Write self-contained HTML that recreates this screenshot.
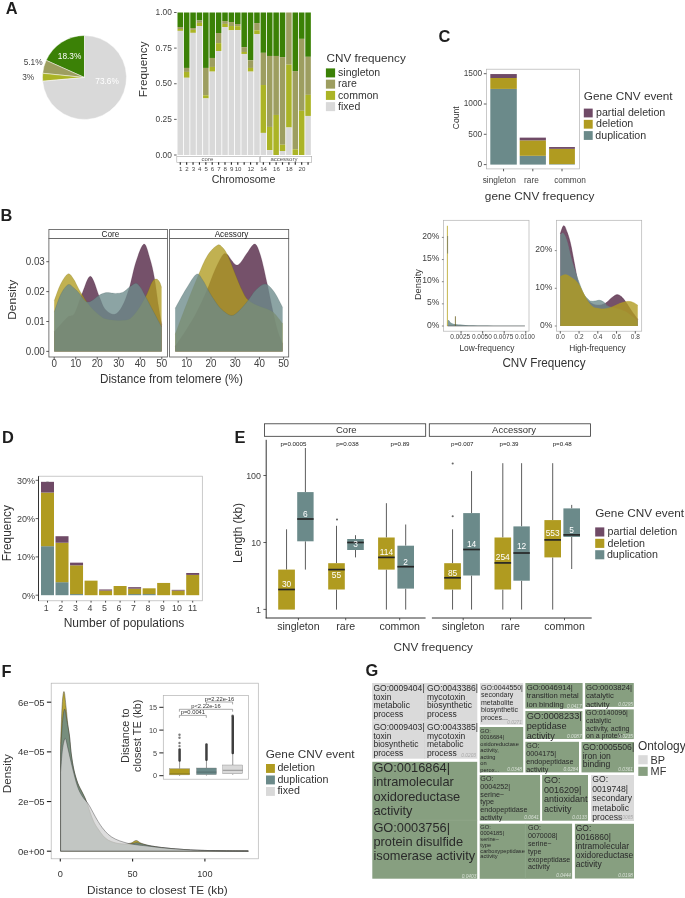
<!DOCTYPE html>
<html><head><meta charset="utf-8"><style>
html,body{margin:0;padding:0;background:#fff;}
svg{display:block;will-change:transform;}
text{font-family:"Liberation Sans", sans-serif;}
</style></head><body>
<svg width="685" height="898" viewBox="0 0 685 898">
<rect x="0" y="0" width="685" height="898" fill="#fff"/>
<text x="5.7" y="14.4" font-size="16.4" fill="#1e1e1e" font-weight="bold">A</text>
<text x="0.6" y="221" font-size="16.4" fill="#1e1e1e" font-weight="bold">B</text>
<text x="438.4" y="41.7" font-size="16.4" fill="#1e1e1e" font-weight="bold">C</text>
<text x="2" y="442.8" font-size="16.4" fill="#1e1e1e" font-weight="bold">D</text>
<text x="234.5" y="442.8" font-size="16.4" fill="#1e1e1e" font-weight="bold">E</text>
<text x="1.4" y="677.4" font-size="16.4" fill="#1e1e1e" font-weight="bold">F</text>
<text x="365.5" y="675.6" font-size="16.4" fill="#1e1e1e" font-weight="bold">G</text>
<path d="M84.5,77.5 L84.5,35.5 A42,42 0 0 0 46.17,60.34 Z" fill="#3b8106" stroke="#fff" stroke-width="0.45"/>
<path d="M84.5,77.5 L46.17,60.34 A42,42 0 0 0 42.71,73.28 Z" fill="#9d9e60" stroke="#fff" stroke-width="0.45"/>
<path d="M84.5,77.5 L42.71,73.28 A42,42 0 0 0 42.66,81.19 Z" fill="#abb426" stroke="#fff" stroke-width="0.45"/>
<path d="M84.5,77.5 L42.66,81.19 A42,42 0 1 0 84.5,35.5 Z" fill="#d9d9d9" stroke="#fff" stroke-width="0.45"/>
<text x="69.6" y="59.2" font-size="8.3" fill="#ffffff" text-anchor="middle">18.3%</text>
<text x="107.1" y="84.4" font-size="8.3" fill="#ffffff" text-anchor="middle">73.6%</text>
<text x="33.1" y="65.1" font-size="8.3" fill="#424242" text-anchor="middle">5.1%</text>
<text x="28.2" y="79.7" font-size="8.3" fill="#424242" text-anchor="middle">3%</text>
<rect x="177.5" y="12.5" width="5.55" height="14.53" fill="#3b8106"/>
<rect x="177.5" y="27.03" width="5.55" height="2" fill="#9d9e60"/>
<rect x="177.5" y="29.03" width="5.55" height="1.85" fill="#abb426"/>
<rect x="177.5" y="30.88" width="5.55" height="124.12" fill="#d9d9d9"/>
<rect x="183.89" y="12.5" width="5.55" height="55.43" fill="#3b8106"/>
<rect x="183.89" y="67.93" width="5.55" height="3.99" fill="#9d9e60"/>
<rect x="183.89" y="71.92" width="5.55" height="5.84" fill="#abb426"/>
<rect x="183.89" y="77.77" width="5.55" height="77.23" fill="#d9d9d9"/>
<rect x="190.28" y="12.5" width="5.55" height="15.53" fill="#3b8106"/>
<rect x="190.28" y="28.03" width="5.55" height="1.85" fill="#9d9e60"/>
<rect x="190.28" y="29.88" width="5.55" height="2.99" fill="#abb426"/>
<rect x="190.28" y="32.88" width="5.55" height="122.12" fill="#d9d9d9"/>
<rect x="196.67" y="12.5" width="5.55" height="7.98" fill="#3b8106"/>
<rect x="196.67" y="20.48" width="5.55" height="2.42" fill="#9d9e60"/>
<rect x="196.67" y="22.9" width="5.55" height="3.14" fill="#abb426"/>
<rect x="196.67" y="26.04" width="5.55" height="128.96" fill="#d9d9d9"/>
<rect x="203.06" y="12.5" width="5.55" height="55.43" fill="#3b8106"/>
<rect x="203.06" y="67.93" width="5.55" height="27.36" fill="#9d9e60"/>
<rect x="203.06" y="95.29" width="5.55" height="3.14" fill="#abb426"/>
<rect x="203.06" y="98.43" width="5.55" height="56.57" fill="#d9d9d9"/>
<rect x="209.45" y="12.5" width="5.55" height="45.46" fill="#3b8106"/>
<rect x="209.45" y="57.96" width="5.55" height="8.98" fill="#9d9e60"/>
<rect x="209.45" y="66.94" width="5.55" height="4.7" fill="#abb426"/>
<rect x="209.45" y="71.64" width="5.55" height="83.36" fill="#d9d9d9"/>
<rect x="215.84" y="12.5" width="5.55" height="20.52" fill="#3b8106"/>
<rect x="215.84" y="33.02" width="5.55" height="10.12" fill="#9d9e60"/>
<rect x="215.84" y="43.14" width="5.55" height="7.84" fill="#abb426"/>
<rect x="215.84" y="50.98" width="5.55" height="104.03" fill="#d9d9d9"/>
<rect x="222.23" y="12.5" width="5.55" height="8.55" fill="#3b8106"/>
<rect x="222.23" y="21.05" width="5.55" height="2.85" fill="#9d9e60"/>
<rect x="222.23" y="23.9" width="5.55" height="3.13" fill="#abb426"/>
<rect x="222.23" y="27.03" width="5.55" height="127.97" fill="#d9d9d9"/>
<rect x="228.62" y="12.5" width="5.55" height="9.55" fill="#3b8106"/>
<rect x="228.62" y="22.05" width="5.55" height="3.99" fill="#9d9e60"/>
<rect x="228.62" y="26.04" width="5.55" height="4.27" fill="#abb426"/>
<rect x="228.62" y="30.31" width="5.55" height="124.69" fill="#d9d9d9"/>
<rect x="235.01" y="12.5" width="5.55" height="11.54" fill="#3b8106"/>
<rect x="235.01" y="24.04" width="5.55" height="2.14" fill="#9d9e60"/>
<rect x="235.01" y="26.18" width="5.55" height="3.85" fill="#abb426"/>
<rect x="235.01" y="30.03" width="5.55" height="124.97" fill="#d9d9d9"/>
<rect x="241.4" y="12.5" width="5.55" height="34.63" fill="#3b8106"/>
<rect x="241.4" y="47.13" width="5.55" height="4.85" fill="#9d9e60"/>
<rect x="241.4" y="51.97" width="5.55" height="1.99" fill="#abb426"/>
<rect x="241.4" y="53.97" width="5.55" height="101.03" fill="#d9d9d9"/>
<rect x="247.79" y="12.5" width="5.55" height="47.74" fill="#3b8106"/>
<rect x="247.79" y="60.24" width="5.55" height="7.7" fill="#9d9e60"/>
<rect x="247.79" y="67.93" width="5.55" height="3.7" fill="#abb426"/>
<rect x="247.79" y="71.64" width="5.55" height="83.36" fill="#d9d9d9"/>
<rect x="254.18" y="12.5" width="5.55" height="10.55" fill="#3b8106"/>
<rect x="254.18" y="23.05" width="5.55" height="7.27" fill="#9d9e60"/>
<rect x="254.18" y="30.31" width="5.55" height="3.7" fill="#abb426"/>
<rect x="254.18" y="34.02" width="5.55" height="120.98" fill="#d9d9d9"/>
<rect x="260.57" y="12.5" width="5.55" height="40.33" fill="#3b8106"/>
<rect x="260.57" y="52.83" width="5.55" height="32.21" fill="#9d9e60"/>
<rect x="260.57" y="85.03" width="5.55" height="47.88" fill="#abb426"/>
<rect x="260.57" y="132.91" width="5.55" height="22.09" fill="#d9d9d9"/>
<rect x="266.96" y="12.5" width="5.55" height="43.46" fill="#3b8106"/>
<rect x="266.96" y="55.96" width="5.55" height="70.97" fill="#9d9e60"/>
<rect x="266.96" y="126.93" width="5.55" height="23.23" fill="#abb426"/>
<rect x="266.96" y="150.16" width="5.55" height="4.84" fill="#d9d9d9"/>
<rect x="273.35" y="12.5" width="5.55" height="43.46" fill="#3b8106"/>
<rect x="273.35" y="55.96" width="5.55" height="58.99" fill="#9d9e60"/>
<rect x="273.35" y="114.96" width="5.55" height="40.04" fill="#abb426"/>
<rect x="279.74" y="12.5" width="5.55" height="44.6" fill="#3b8106"/>
<rect x="279.74" y="57.1" width="5.55" height="87.64" fill="#9d9e60"/>
<rect x="279.74" y="144.74" width="5.55" height="6.27" fill="#abb426"/>
<rect x="279.74" y="151.01" width="5.55" height="3.99" fill="#d9d9d9"/>
<rect x="286.13" y="12.5" width="5.55" height="52.16" fill="#9d9e60"/>
<rect x="286.13" y="64.66" width="5.55" height="62.84" fill="#abb426"/>
<rect x="286.13" y="127.5" width="5.55" height="27.5" fill="#d9d9d9"/>
<rect x="292.52" y="12.5" width="5.55" height="58.57" fill="#3b8106"/>
<rect x="292.52" y="71.07" width="5.55" height="78.23" fill="#9d9e60"/>
<rect x="292.52" y="149.3" width="5.55" height="5.7" fill="#abb426"/>
<rect x="298.91" y="12.5" width="5.55" height="26.36" fill="#3b8106"/>
<rect x="298.91" y="38.86" width="5.55" height="71.96" fill="#9d9e60"/>
<rect x="298.91" y="110.82" width="5.55" height="44.18" fill="#abb426"/>
<rect x="305.3" y="12.5" width="5.55" height="44.32" fill="#3b8106"/>
<rect x="305.3" y="56.82" width="5.55" height="38.05" fill="#9d9e60"/>
<rect x="305.3" y="94.86" width="5.55" height="21.09" fill="#abb426"/>
<rect x="305.3" y="115.95" width="5.55" height="39.05" fill="#d9d9d9"/>
<line x1="174.1" y1="12.5" x2="176.6" y2="12.5" stroke="#333" stroke-width="0.8"/>
<text x="171.8" y="15" font-size="8.4" fill="#424242" text-anchor="end">1.00</text>
<line x1="174.1" y1="48.12" x2="176.6" y2="48.12" stroke="#333" stroke-width="0.8"/>
<text x="171.8" y="50.62" font-size="8.4" fill="#424242" text-anchor="end">0.75</text>
<line x1="174.1" y1="83.75" x2="176.6" y2="83.75" stroke="#333" stroke-width="0.8"/>
<text x="171.8" y="86.25" font-size="8.4" fill="#424242" text-anchor="end">0.50</text>
<line x1="174.1" y1="119.38" x2="176.6" y2="119.38" stroke="#333" stroke-width="0.8"/>
<text x="171.8" y="121.88" font-size="8.4" fill="#424242" text-anchor="end">0.25</text>
<line x1="174.1" y1="155" x2="176.6" y2="155" stroke="#333" stroke-width="0.8"/>
<text x="171.8" y="157.5" font-size="8.4" fill="#424242" text-anchor="end">0.00</text>
<text x="146.9" y="69.3" font-size="11.8" fill="#333333" text-anchor="middle" transform="rotate(-90 146.9 69.3)">Frequency</text>
<rect x="176.8" y="156.4" width="82.8" height="6.1" fill="#fff" stroke="#aaa" stroke-width="0.6"/>
<rect x="260.5" y="156.4" width="51.2" height="6.1" fill="#fff" stroke="#aaa" stroke-width="0.6"/>
<text x="207.4" y="160.5" font-size="6" fill="#555" text-anchor="middle">core</text>
<text x="283.9" y="160.5" font-size="6" fill="#555" text-anchor="middle">accessory</text>
<line x1="180.28" y1="162.3" x2="180.28" y2="164.7" stroke="#222" stroke-width="1.15"/>
<line x1="186.66" y1="162.3" x2="186.66" y2="164.7" stroke="#222" stroke-width="1.15"/>
<line x1="193.06" y1="162.3" x2="193.06" y2="164.7" stroke="#222" stroke-width="1.15"/>
<line x1="199.44" y1="162.3" x2="199.44" y2="164.7" stroke="#222" stroke-width="1.15"/>
<line x1="205.84" y1="162.3" x2="205.84" y2="164.7" stroke="#222" stroke-width="1.15"/>
<line x1="212.22" y1="162.3" x2="212.22" y2="164.7" stroke="#222" stroke-width="1.15"/>
<line x1="218.62" y1="162.3" x2="218.62" y2="164.7" stroke="#222" stroke-width="1.15"/>
<line x1="225" y1="162.3" x2="225" y2="164.7" stroke="#222" stroke-width="1.15"/>
<line x1="231.4" y1="162.3" x2="231.4" y2="164.7" stroke="#222" stroke-width="1.15"/>
<line x1="237.78" y1="162.3" x2="237.78" y2="164.7" stroke="#222" stroke-width="1.15"/>
<line x1="244.18" y1="162.3" x2="244.18" y2="164.7" stroke="#222" stroke-width="1.15"/>
<line x1="250.56" y1="162.3" x2="250.56" y2="164.7" stroke="#222" stroke-width="1.15"/>
<line x1="256.95" y1="162.3" x2="256.95" y2="164.7" stroke="#222" stroke-width="1.15"/>
<line x1="263.34" y1="162.3" x2="263.34" y2="164.7" stroke="#222" stroke-width="1.15"/>
<line x1="269.73" y1="162.3" x2="269.73" y2="164.7" stroke="#222" stroke-width="1.15"/>
<line x1="276.12" y1="162.3" x2="276.12" y2="164.7" stroke="#222" stroke-width="1.15"/>
<line x1="282.51" y1="162.3" x2="282.51" y2="164.7" stroke="#222" stroke-width="1.15"/>
<line x1="288.9" y1="162.3" x2="288.9" y2="164.7" stroke="#222" stroke-width="1.15"/>
<line x1="295.29" y1="162.3" x2="295.29" y2="164.7" stroke="#222" stroke-width="1.15"/>
<line x1="301.68" y1="162.3" x2="301.68" y2="164.7" stroke="#222" stroke-width="1.15"/>
<line x1="308.07" y1="162.3" x2="308.07" y2="164.7" stroke="#222" stroke-width="1.15"/>
<text x="180.58" y="171.1" font-size="6.1" fill="#444" text-anchor="middle">1</text>
<text x="186.97" y="171.1" font-size="6.1" fill="#444" text-anchor="middle">2</text>
<text x="193.36" y="171.1" font-size="6.1" fill="#444" text-anchor="middle">3</text>
<text x="199.75" y="171.1" font-size="6.1" fill="#444" text-anchor="middle">4</text>
<text x="206.14" y="171.1" font-size="6.1" fill="#444" text-anchor="middle">5</text>
<text x="212.53" y="171.1" font-size="6.1" fill="#444" text-anchor="middle">6</text>
<text x="218.92" y="171.1" font-size="6.1" fill="#444" text-anchor="middle">7</text>
<text x="225.31" y="171.1" font-size="6.1" fill="#444" text-anchor="middle">8</text>
<text x="231.7" y="171.1" font-size="6.1" fill="#444" text-anchor="middle">9</text>
<text x="238.09" y="171.1" font-size="6.1" fill="#444" text-anchor="middle">10</text>
<text x="250.87" y="171.1" font-size="6.1" fill="#444" text-anchor="middle">12</text>
<text x="263.64" y="171.1" font-size="6.1" fill="#444" text-anchor="middle">14</text>
<text x="276.43" y="171.1" font-size="6.1" fill="#444" text-anchor="middle">16</text>
<text x="289.2" y="171.1" font-size="6.1" fill="#444" text-anchor="middle">18</text>
<text x="301.98" y="171.1" font-size="6.1" fill="#444" text-anchor="middle">20</text>
<text x="243.5" y="183.1" font-size="10.6" fill="#333333" text-anchor="middle">Chromosome</text>
<text x="326.5" y="61.7" font-size="11.7" fill="#333333">CNV frequency</text>
<rect x="325.9" y="68.4" width="9.2" height="9" fill="#3b8106"/>
<text x="338.1" y="76" font-size="10.5" fill="#333333">singleton</text>
<rect x="325.9" y="79.65" width="9.2" height="9" fill="#9d9e60"/>
<text x="338.1" y="87.25" font-size="10.5" fill="#333333">rare</text>
<rect x="325.9" y="90.9" width="9.2" height="9" fill="#abb426"/>
<text x="338.1" y="98.5" font-size="10.5" fill="#333333">common</text>
<rect x="325.9" y="102.15" width="9.2" height="9" fill="#d9d9d9"/>
<text x="338.1" y="109.75" font-size="10.5" fill="#333333">fixed</text>
<rect x="486.4" y="69.2" width="93" height="99.7" fill="none" stroke="#b3b3b3" stroke-width="0.7"/>
<rect x="490.3" y="88.91" width="26.5" height="75.69" fill="#6b8a8a"/>
<rect x="490.3" y="78" width="26.5" height="10.91" fill="#b09b20"/>
<rect x="490.3" y="74.06" width="26.5" height="3.94" fill="#6f4a66"/>
<rect x="519.7" y="155.81" width="26.2" height="8.79" fill="#6b8a8a"/>
<rect x="519.7" y="140.36" width="26.2" height="15.45" fill="#b09b20"/>
<rect x="519.7" y="137.63" width="26.2" height="2.73" fill="#6f4a66"/>
<rect x="549.1" y="164.12" width="25.8" height="0.48" fill="#6b8a8a"/>
<rect x="549.1" y="148.84" width="25.8" height="15.27" fill="#b09b20"/>
<rect x="549.1" y="147.03" width="25.8" height="1.82" fill="#6f4a66"/>
<line x1="483.8" y1="164.6" x2="486.4" y2="164.6" stroke="#333" stroke-width="0.8"/>
<text x="482.2" y="166.9" font-size="8.3" fill="#424242" text-anchor="end">0</text>
<line x1="483.8" y1="134.3" x2="486.4" y2="134.3" stroke="#333" stroke-width="0.8"/>
<text x="482.2" y="136.6" font-size="8.3" fill="#424242" text-anchor="end">500</text>
<line x1="483.8" y1="104" x2="486.4" y2="104" stroke="#333" stroke-width="0.8"/>
<text x="482.2" y="106.3" font-size="8.3" fill="#424242" text-anchor="end">1000</text>
<line x1="483.8" y1="73.7" x2="486.4" y2="73.7" stroke="#333" stroke-width="0.8"/>
<text x="482.2" y="76" font-size="8.3" fill="#424242" text-anchor="end">1500</text>
<line x1="503.55" y1="168.9" x2="503.55" y2="171.3" stroke="#333" stroke-width="0.8"/>
<line x1="532.8" y1="168.9" x2="532.8" y2="171.3" stroke="#333" stroke-width="0.8"/>
<line x1="562" y1="168.9" x2="562" y2="171.3" stroke="#333" stroke-width="0.8"/>
<text x="499.3" y="183" font-size="8.3" fill="#424242" text-anchor="middle">singleton</text>
<text x="531.4" y="183" font-size="8.3" fill="#424242" text-anchor="middle">rare</text>
<text x="570.1" y="183" font-size="8.3" fill="#424242" text-anchor="middle">common</text>
<text x="459.2" y="117.8" font-size="8.6" fill="#333333" text-anchor="middle" transform="rotate(-90 459.2 117.8)">Count</text>
<text x="539.6" y="200.4" font-size="11.8" fill="#333333" text-anchor="middle">gene CNV frequency</text>
<text x="583.8" y="100.3" font-size="11.75" fill="#333333">Gene CNV event</text>
<rect x="583.8" y="108.6" width="8.9" height="8.8" fill="#6f4a66"/>
<text x="596" y="116" font-size="10.65" fill="#333333">partial deletion</text>
<rect x="583.8" y="119.85" width="8.9" height="8.8" fill="#b09b20"/>
<text x="596" y="127.25" font-size="10.65" fill="#333333">deletion</text>
<rect x="583.8" y="131.1" width="8.9" height="8.8" fill="#6b8a8a"/>
<text x="595.3" y="138.5" font-size="10.65" fill="#333333">duplication</text>
<path d="M54.2,331.67 C55.28,330.47 58.36,326.98 60.66,324.49 C62.95,322 65.64,318.61 67.97,316.72 C70.3,314.82 72.24,317.11 74.64,313.13 C77.05,309.14 79.74,298.93 82.39,292.8 C85.05,286.67 87.74,275.7 90.57,276.35 C93.4,277 96.99,291.25 99.39,296.68 C101.8,302.11 102.48,306 104.99,308.94 C107.5,311.88 111.62,314.72 114.46,314.32 C117.29,313.93 119.55,310.84 121.99,306.55 C124.43,302.26 126.76,296.08 129.09,288.61 C131.42,281.13 133.5,269.13 135.98,261.7 C138.45,254.27 141.61,244.56 143.94,244.06 C146.27,243.56 148.21,253.03 149.96,258.71 C151.72,264.39 153.05,270.17 154.48,278.14 C155.92,286.12 157.35,298.78 158.57,306.55 C159.79,314.32 161.26,321.75 161.8,324.79 L161.8,351.4 L54.2,351.4 Z" fill="#4e2040" fill-opacity="0.78"/>
<path d="M54.2,331.67 C55.28,330.47 58.36,326.98 60.66,324.49 C62.95,322 65.64,318.61 67.97,316.72 C70.3,314.82 72.24,317.11 74.64,313.13 C77.05,309.14 79.74,298.93 82.39,292.8 C85.05,286.67 87.74,275.7 90.57,276.35 C93.4,277 96.99,291.25 99.39,296.68 C101.8,302.11 102.48,306 104.99,308.94 C107.5,311.88 111.62,314.72 114.46,314.32 C117.29,313.93 119.55,310.84 121.99,306.55 C124.43,302.26 126.76,296.08 129.09,288.61 C131.42,281.13 133.5,269.13 135.98,261.7 C138.45,254.27 141.61,244.56 143.94,244.06 C146.27,243.56 148.21,253.03 149.96,258.71 C151.72,264.39 153.05,270.17 154.48,278.14 C155.92,286.12 157.35,298.78 158.57,306.55 C159.79,314.32 161.26,321.75 161.8,324.79" fill="none" stroke="#3a1030" stroke-opacity="0.35" stroke-width="0.5"/>
<path d="M54.2,300.87 C55.28,298.08 58.36,288.61 60.66,284.12 C62.95,279.64 65.82,274.81 67.97,273.96 C70.12,273.11 71.77,276.55 73.57,279.04 C75.36,281.53 76.54,285.12 78.73,288.91 C80.92,292.7 84.33,298.33 86.7,301.77 C89.06,305.2 90.82,307.3 92.94,309.54 C95.05,311.78 97.38,313.68 99.39,315.22 C101.4,316.77 102.48,317.96 104.99,318.81 C107.5,319.66 111.44,320.05 114.46,320.3 C117.47,320.55 120.41,320.6 123.06,320.3 C125.72,320 127.87,320.3 130.38,318.51 C132.89,316.72 135.47,313.38 138.13,309.54 C140.78,305.7 143.97,300.07 146.31,295.49 C148.64,290.9 150.43,284.77 152.12,282.03 C153.8,279.29 155.16,279.04 156.42,279.04 C157.68,279.04 158.79,280.64 159.65,282.03 C160.51,283.43 161.26,286.52 161.58,287.41 L161.58,351.4 L54.2,351.4 Z" fill="#b09b20" fill-opacity="0.78"/>
<path d="M54.2,300.87 C55.28,298.08 58.36,288.61 60.66,284.12 C62.95,279.64 65.82,274.81 67.97,273.96 C70.12,273.11 71.77,276.55 73.57,279.04 C75.36,281.53 76.54,285.12 78.73,288.91 C80.92,292.7 84.33,298.33 86.7,301.77 C89.06,305.2 90.82,307.3 92.94,309.54 C95.05,311.78 97.38,313.68 99.39,315.22 C101.4,316.77 102.48,317.96 104.99,318.81 C107.5,319.66 111.44,320.05 114.46,320.3 C117.47,320.55 120.41,320.6 123.06,320.3 C125.72,320 127.87,320.3 130.38,318.51 C132.89,316.72 135.47,313.38 138.13,309.54 C140.78,305.7 143.97,300.07 146.31,295.49 C148.64,290.9 150.43,284.77 152.12,282.03 C153.8,279.29 155.16,279.04 156.42,279.04 C157.68,279.04 158.79,280.64 159.65,282.03 C160.51,283.43 161.26,286.52 161.58,287.41" fill="none" stroke="#6a5a00" stroke-opacity="0.35" stroke-width="0.5"/>
<path d="M54.2,312.23 C55.28,309.29 58.36,299.17 60.66,294.59 C62.95,290.01 65.82,285.87 67.97,284.72 C70.12,283.58 71.77,286.37 73.57,287.71 C75.36,289.06 76.94,290.75 78.73,292.8 C80.53,294.84 82.75,298.43 84.33,299.97 C85.91,301.52 86.77,302.06 88.2,302.06 C89.64,302.06 91.18,301.07 92.94,299.97 C94.69,298.88 96.74,296.68 98.75,295.49 C100.75,294.29 103.09,293.24 104.99,292.8 C106.89,292.35 108.36,292.7 110.15,292.8 C111.95,292.9 113.6,293.49 115.75,293.39 C117.9,293.29 120.77,293.24 123.06,292.2 C125.36,291.15 127.4,288.61 129.52,287.12 C131.64,285.62 133.97,283.23 135.76,283.23 C137.55,283.23 138.74,285.07 140.28,287.12 C141.82,289.16 142.86,291.5 145.01,295.49 C147.17,299.47 150.43,305.8 153.19,311.03 C155.95,316.27 160.19,324.24 161.58,326.88 L161.58,351.4 L54.2,351.4 Z" fill="#6b8a8a" fill-opacity="0.78"/>
<path d="M54.2,312.23 C55.28,309.29 58.36,299.17 60.66,294.59 C62.95,290.01 65.82,285.87 67.97,284.72 C70.12,283.58 71.77,286.37 73.57,287.71 C75.36,289.06 76.94,290.75 78.73,292.8 C80.53,294.84 82.75,298.43 84.33,299.97 C85.91,301.52 86.77,302.06 88.2,302.06 C89.64,302.06 91.18,301.07 92.94,299.97 C94.69,298.88 96.74,296.68 98.75,295.49 C100.75,294.29 103.09,293.24 104.99,292.8 C106.89,292.35 108.36,292.7 110.15,292.8 C111.95,292.9 113.6,293.49 115.75,293.39 C117.9,293.29 120.77,293.24 123.06,292.2 C125.36,291.15 127.4,288.61 129.52,287.12 C131.64,285.62 133.97,283.23 135.76,283.23 C137.55,283.23 138.74,285.07 140.28,287.12 C141.82,289.16 142.86,291.5 145.01,295.49 C147.17,299.47 150.43,305.8 153.19,311.03 C155.95,316.27 160.19,324.24 161.58,326.88" fill="none" stroke="#3a5050" stroke-opacity="0.35" stroke-width="0.5"/>
<path d="M175.18,346.32 C177.12,343.43 183.25,334.61 186.8,328.97 C190.35,323.34 193.21,318.76 196.48,312.53 C199.75,306.3 203.38,298.58 206.4,291.6 C209.43,284.62 211.97,276.7 214.63,270.67 C217.29,264.64 220.32,258.16 222.37,255.42 C224.43,252.68 225.44,253.43 226.97,254.22 C228.5,255.02 230.12,258.46 231.57,260.2 C233.02,261.95 234.27,264.19 235.68,264.69 C237.1,265.19 238.1,265.19 240.04,263.19 C241.98,261.2 244.84,255.92 247.3,252.73 C249.76,249.54 252.58,243.56 254.8,244.06 C257.02,244.56 258.55,249.14 260.61,255.72 C262.67,262.3 265.05,274.11 267.14,283.53 C269.24,292.95 271.46,304.41 273.19,312.23 C274.93,320.05 275.98,325.24 277.55,330.47 C279.12,335.7 281.79,341.43 282.63,343.63 L282.63,351.4 L175.18,351.4 Z" fill="#4e2040" fill-opacity="0.78"/>
<path d="M175.18,346.32 C177.12,343.43 183.25,334.61 186.8,328.97 C190.35,323.34 193.21,318.76 196.48,312.53 C199.75,306.3 203.38,298.58 206.4,291.6 C209.43,284.62 211.97,276.7 214.63,270.67 C217.29,264.64 220.32,258.16 222.37,255.42 C224.43,252.68 225.44,253.43 226.97,254.22 C228.5,255.02 230.12,258.46 231.57,260.2 C233.02,261.95 234.27,264.19 235.68,264.69 C237.1,265.19 238.1,265.19 240.04,263.19 C241.98,261.2 244.84,255.92 247.3,252.73 C249.76,249.54 252.58,243.56 254.8,244.06 C257.02,244.56 258.55,249.14 260.61,255.72 C262.67,262.3 265.05,274.11 267.14,283.53 C269.24,292.95 271.46,304.41 273.19,312.23 C274.93,320.05 275.98,325.24 277.55,330.47 C279.12,335.7 281.79,341.43 282.63,343.63" fill="none" stroke="#3a1030" stroke-opacity="0.35" stroke-width="0.5"/>
<path d="M175.18,334.36 C177.04,329.42 182.56,314.37 186.32,304.76 C190.07,295.14 194.18,284.82 197.69,276.65 C201.2,268.48 204.1,260.95 207.37,255.72 C210.64,250.49 214.79,246.65 217.29,245.25 C219.79,243.86 220.76,245.9 222.37,247.35 C223.99,248.79 225.44,251.04 226.97,253.93 C228.5,256.82 229.92,260.65 231.57,264.69 C233.22,268.73 235.16,273.91 236.89,278.14 C238.63,282.38 240.32,286.67 241.98,290.1 C243.63,293.54 244.72,296.43 246.82,298.78 C248.91,301.12 251.66,302.61 254.56,304.16 C257.46,305.7 261.13,306.7 264.24,308.04 C267.35,309.39 270.13,309.64 273.19,312.23 C276.26,314.82 281.06,321.7 282.63,323.59 L282.63,351.4 L175.18,351.4 Z" fill="#b09b20" fill-opacity="0.78"/>
<path d="M175.18,334.36 C177.04,329.42 182.56,314.37 186.32,304.76 C190.07,295.14 194.18,284.82 197.69,276.65 C201.2,268.48 204.1,260.95 207.37,255.72 C210.64,250.49 214.79,246.65 217.29,245.25 C219.79,243.86 220.76,245.9 222.37,247.35 C223.99,248.79 225.44,251.04 226.97,253.93 C228.5,256.82 229.92,260.65 231.57,264.69 C233.22,268.73 235.16,273.91 236.89,278.14 C238.63,282.38 240.32,286.67 241.98,290.1 C243.63,293.54 244.72,296.43 246.82,298.78 C248.91,301.12 251.66,302.61 254.56,304.16 C257.46,305.7 261.13,306.7 264.24,308.04 C267.35,309.39 270.13,309.64 273.19,312.23 C276.26,314.82 281.06,321.7 282.63,323.59" fill="none" stroke="#6a5a00" stroke-opacity="0.35" stroke-width="0.5"/>
<path d="M175.18,308.34 C177.04,305.06 182.77,294.29 186.32,288.61 C189.87,282.93 193.78,275.75 196.48,274.26 C199.18,272.76 200.43,276.75 202.53,279.64 C204.63,282.53 207.05,288.11 209.06,291.6 C211.08,295.09 212.61,297.68 214.63,300.57 C216.65,303.46 218.42,306.45 221.16,308.94 C223.91,311.43 228.14,315.17 231.09,315.52 C234.03,315.87 236.05,313.48 238.83,311.03 C241.61,308.59 244.96,304.36 247.78,300.87 C250.61,297.38 252.87,292.9 255.77,290.1 C258.67,287.31 262.18,283.88 265.21,284.12 C268.23,284.37 271.02,287.71 273.92,291.6 C276.82,295.49 281.18,304.81 282.63,307.45 L282.63,351.4 L175.18,351.4 Z" fill="#6b8a8a" fill-opacity="0.78"/>
<path d="M175.18,308.34 C177.04,305.06 182.77,294.29 186.32,288.61 C189.87,282.93 193.78,275.75 196.48,274.26 C199.18,272.76 200.43,276.75 202.53,279.64 C204.63,282.53 207.05,288.11 209.06,291.6 C211.08,295.09 212.61,297.68 214.63,300.57 C216.65,303.46 218.42,306.45 221.16,308.94 C223.91,311.43 228.14,315.17 231.09,315.52 C234.03,315.87 236.05,313.48 238.83,311.03 C241.61,308.59 244.96,304.36 247.78,300.87 C250.61,297.38 252.87,292.9 255.77,290.1 C258.67,287.31 262.18,283.88 265.21,284.12 C268.23,284.37 271.02,287.71 273.92,291.6 C276.82,295.49 281.18,304.81 282.63,307.45" fill="none" stroke="#3a5050" stroke-opacity="0.35" stroke-width="0.5"/>
<rect x="48.9" y="238.5" width="118.6" height="118.5" fill="none" stroke="#555" stroke-width="0.8"/>
<rect x="48.9" y="229.5" width="118.6" height="9" fill="#fff" stroke="#555" stroke-width="0.8"/>
<rect x="169.6" y="238.5" width="119.1" height="118.5" fill="none" stroke="#555" stroke-width="0.8"/>
<rect x="169.6" y="229.5" width="119.1" height="9" fill="#fff" stroke="#555" stroke-width="0.8"/>
<text x="110.5" y="236.6" font-size="8.2" fill="#1a1a1a" text-anchor="middle" transform="translate(110.5 236.6) scale(1 1.12) translate(-110.5 -236.6)">Core</text>
<text x="231.5" y="236.6" font-size="8.2" fill="#1a1a1a" text-anchor="middle" transform="translate(231.5 236.6) scale(1 1.12) translate(-231.5 -236.6)">Acessory</text>
<line x1="46.3" y1="261.7" x2="48.9" y2="261.7" stroke="#333" stroke-width="0.8"/>
<text x="44.8" y="265" font-size="9.8" fill="#424242" text-anchor="end" transform="translate(44.8 265) scale(1 1.12) translate(-44.8 -265)">0.03</text>
<line x1="46.3" y1="291.6" x2="48.9" y2="291.6" stroke="#333" stroke-width="0.8"/>
<text x="44.8" y="294.9" font-size="9.8" fill="#424242" text-anchor="end" transform="translate(44.8 294.9) scale(1 1.12) translate(-44.8 -294.9)">0.02</text>
<line x1="46.3" y1="321.5" x2="48.9" y2="321.5" stroke="#333" stroke-width="0.8"/>
<text x="44.8" y="324.8" font-size="9.8" fill="#424242" text-anchor="end" transform="translate(44.8 324.8) scale(1 1.12) translate(-44.8 -324.8)">0.01</text>
<line x1="46.3" y1="351.4" x2="48.9" y2="351.4" stroke="#333" stroke-width="0.8"/>
<text x="44.8" y="354.7" font-size="9.8" fill="#424242" text-anchor="end" transform="translate(44.8 354.7) scale(1 1.12) translate(-44.8 -354.7)">0.00</text>
<line x1="54.2" y1="357" x2="54.2" y2="359.6" stroke="#333" stroke-width="0.8"/>
<text x="54.2" y="367.3" font-size="9.8" fill="#424242" text-anchor="middle" transform="translate(54.2 367.3) scale(1 1.12) translate(-54.2 -367.3)">0</text>
<line x1="75.72" y1="357" x2="75.72" y2="359.6" stroke="#333" stroke-width="0.8"/>
<text x="75.72" y="367.3" font-size="9.8" fill="#424242" text-anchor="middle" transform="translate(75.72 367.3) scale(1 1.12) translate(-75.72 -367.3)">10</text>
<line x1="97.24" y1="357" x2="97.24" y2="359.6" stroke="#333" stroke-width="0.8"/>
<text x="97.24" y="367.3" font-size="9.8" fill="#424242" text-anchor="middle" transform="translate(97.24 367.3) scale(1 1.12) translate(-97.24 -367.3)">20</text>
<line x1="118.76" y1="357" x2="118.76" y2="359.6" stroke="#333" stroke-width="0.8"/>
<text x="118.76" y="367.3" font-size="9.8" fill="#424242" text-anchor="middle" transform="translate(118.76 367.3) scale(1 1.12) translate(-118.76 -367.3)">30</text>
<line x1="140.28" y1="357" x2="140.28" y2="359.6" stroke="#333" stroke-width="0.8"/>
<text x="140.28" y="367.3" font-size="9.8" fill="#424242" text-anchor="middle" transform="translate(140.28 367.3) scale(1 1.12) translate(-140.28 -367.3)">40</text>
<line x1="161.8" y1="357" x2="161.8" y2="359.6" stroke="#333" stroke-width="0.8"/>
<text x="161.8" y="367.3" font-size="9.8" fill="#424242" text-anchor="middle" transform="translate(161.8 367.3) scale(1 1.12) translate(-161.8 -367.3)">50</text>
<line x1="186.8" y1="357" x2="186.8" y2="359.6" stroke="#333" stroke-width="0.8"/>
<text x="186.8" y="367.3" font-size="9.8" fill="#424242" text-anchor="middle" transform="translate(186.8 367.3) scale(1 1.12) translate(-186.8 -367.3)">10</text>
<line x1="211" y1="357" x2="211" y2="359.6" stroke="#333" stroke-width="0.8"/>
<text x="211" y="367.3" font-size="9.8" fill="#424242" text-anchor="middle" transform="translate(211 367.3) scale(1 1.12) translate(-211 -367.3)">20</text>
<line x1="235.2" y1="357" x2="235.2" y2="359.6" stroke="#333" stroke-width="0.8"/>
<text x="235.2" y="367.3" font-size="9.8" fill="#424242" text-anchor="middle" transform="translate(235.2 367.3) scale(1 1.12) translate(-235.2 -367.3)">30</text>
<line x1="259.4" y1="357" x2="259.4" y2="359.6" stroke="#333" stroke-width="0.8"/>
<text x="259.4" y="367.3" font-size="9.8" fill="#424242" text-anchor="middle" transform="translate(259.4 367.3) scale(1 1.12) translate(-259.4 -367.3)">40</text>
<line x1="283.6" y1="357" x2="283.6" y2="359.6" stroke="#333" stroke-width="0.8"/>
<text x="283.6" y="367.3" font-size="9.8" fill="#424242" text-anchor="middle" transform="translate(283.6 367.3) scale(1 1.12) translate(-283.6 -367.3)">50</text>
<text x="16" y="299.8" font-size="10.7" fill="#333333" text-anchor="middle" transform="translate(16 299.8) scale(1 1.12) translate(-16 -299.8) rotate(-90 16 299.8)">Density</text>
<text x="171.5" y="382.6" font-size="11.75" fill="#333333" text-anchor="middle" transform="translate(171.5 382.6) scale(1 1.12) translate(-171.5 -382.6)">Distance from telomere (%)</text>
<rect x="443.6" y="220.3" width="85.4" height="110.9" fill="none" stroke="#b3b3b3" stroke-width="0.7"/>
<path d="M447.52,326 C447.57,325.11 447.54,321.64 447.78,320.68 C448.03,319.72 448.5,319.95 448.99,320.24 C449.48,320.54 450,321.87 450.72,322.46 C451.43,323.05 452.3,323.49 453.3,323.79 C454.31,324.08 454.74,324.04 456.75,324.23 C458.77,324.41 461.07,324.69 465.38,324.89 C469.69,325.1 476.16,325.33 482.63,325.47 C489.11,325.61 497.16,325.67 504.2,325.73 C511.25,325.8 521.46,325.84 524.91,325.87 L524.91,326 L447.52,326 Z" fill="#6b8a8a" fill-opacity="0.85"/>
<line x1="447.4" y1="326" x2="447.4" y2="225.8" stroke="#bfae3a" stroke-width="0.9"/>
<line x1="447.6" y1="253.5" x2="447.6" y2="236" stroke="#77775a" stroke-width="0.8"/>
<line x1="455.4" y1="326" x2="455.4" y2="316.3" stroke="#6a6020" stroke-width="0.8"/>
<line x1="447.52" y1="326" x2="524.91" y2="326" stroke="#555" stroke-width="0.6"/>
<line x1="441.9" y1="237.4" x2="443.6" y2="237.4" stroke="#555" stroke-width="0.7"/>
<text x="439.4" y="239" font-size="8.6" fill="#424242" text-anchor="end" transform="translate(439.4 239) scale(1 1.12) translate(-439.4 -239)">20%</text>
<line x1="441.9" y1="259.55" x2="443.6" y2="259.55" stroke="#555" stroke-width="0.7"/>
<text x="439.4" y="261.15" font-size="8.6" fill="#424242" text-anchor="end" transform="translate(439.4 261.15) scale(1 1.12) translate(-439.4 -261.15)">15%</text>
<line x1="441.9" y1="281.7" x2="443.6" y2="281.7" stroke="#555" stroke-width="0.7"/>
<text x="439.4" y="283.3" font-size="8.6" fill="#424242" text-anchor="end" transform="translate(439.4 283.3) scale(1 1.12) translate(-439.4 -283.3)">10%</text>
<line x1="441.9" y1="303.85" x2="443.6" y2="303.85" stroke="#555" stroke-width="0.7"/>
<text x="439.4" y="305.45" font-size="8.6" fill="#424242" text-anchor="end" transform="translate(439.4 305.45) scale(1 1.12) translate(-439.4 -305.45)">5%</text>
<line x1="441.9" y1="326" x2="443.6" y2="326" stroke="#555" stroke-width="0.7"/>
<text x="439.4" y="327.6" font-size="8.6" fill="#424242" text-anchor="end" transform="translate(439.4 327.6) scale(1 1.12) translate(-439.4 -327.6)">0%</text>
<line x1="461.07" y1="331.2" x2="461.07" y2="333.6" stroke="#333" stroke-width="0.8"/>
<text x="460.27" y="338.8" font-size="6.5" fill="#424242" text-anchor="middle" transform="translate(460.27 338.8) scale(1 1.12) translate(-460.27 -338.8)">0.0025</text>
<line x1="482.63" y1="331.2" x2="482.63" y2="333.6" stroke="#333" stroke-width="0.8"/>
<text x="481.83" y="338.8" font-size="6.5" fill="#424242" text-anchor="middle" transform="translate(481.83 338.8) scale(1 1.12) translate(-481.83 -338.8)">0.0050</text>
<line x1="504.2" y1="331.2" x2="504.2" y2="333.6" stroke="#333" stroke-width="0.8"/>
<text x="503.4" y="338.8" font-size="6.5" fill="#424242" text-anchor="middle" transform="translate(503.4 338.8) scale(1 1.12) translate(-503.4 -338.8)">0.0075</text>
<line x1="525.77" y1="331.2" x2="525.77" y2="333.6" stroke="#333" stroke-width="0.8"/>
<text x="524.97" y="338.8" font-size="6.5" fill="#424242" text-anchor="middle" transform="translate(524.97 338.8) scale(1 1.12) translate(-524.97 -338.8)">0.0100</text>
<text x="486.9" y="351" font-size="8.4" fill="#333333" text-anchor="middle" transform="translate(486.9 351) scale(1 1.12) translate(-486.9 -351)">Low-frequency</text>
<text x="421.2" y="284.6" font-size="8.3" fill="#333333" text-anchor="middle" transform="translate(421.2 284.6) scale(1 1.12) translate(-421.2 -284.6) rotate(-90 421.2 284.6)">Density</text>
<rect x="556.5" y="220.3" width="85.2" height="110.9" fill="none" stroke="#b3b3b3" stroke-width="0.7"/>
<path d="M560.3,234.01 C560.86,232.63 562.58,226.09 563.67,225.72 C564.77,225.34 565.74,228.8 566.86,231.75 C567.99,234.7 569.17,238.1 570.42,243.44 C571.67,248.78 573.1,257.45 574.36,263.8 C575.63,270.14 576.46,276.3 578.02,281.51 C579.58,286.73 581.69,291.57 583.74,295.09 C585.78,298.6 587.96,300.93 590.3,302.63 C592.64,304.32 595.3,305.14 597.8,305.26 C600.3,305.39 602.96,304.64 605.3,303.38 C607.64,302.12 609.92,299.17 611.86,297.73 C613.8,296.28 615.36,294.9 616.92,294.71 C618.49,294.52 619.83,295.46 621.24,296.59 C622.64,297.73 623.64,299.11 625.36,301.5 C627.08,303.88 629.49,307.94 631.55,310.92 C633.61,313.9 636.71,317.99 637.74,319.4 L637.74,326 L560.3,326 Z" fill="#4e2040" fill-opacity="0.78"/>
<path d="M560.3,234.01 C560.86,232.63 562.58,226.09 563.67,225.72 C564.77,225.34 565.74,228.8 566.86,231.75 C567.99,234.7 569.17,238.1 570.42,243.44 C571.67,248.78 573.1,257.45 574.36,263.8 C575.63,270.14 576.46,276.3 578.02,281.51 C579.58,286.73 581.69,291.57 583.74,295.09 C585.78,298.6 587.96,300.93 590.3,302.63 C592.64,304.32 595.3,305.14 597.8,305.26 C600.3,305.39 602.96,304.64 605.3,303.38 C607.64,302.12 609.92,299.17 611.86,297.73 C613.8,296.28 615.36,294.9 616.92,294.71 C618.49,294.52 619.83,295.46 621.24,296.59 C622.64,297.73 623.64,299.11 625.36,301.5 C627.08,303.88 629.49,307.94 631.55,310.92 C633.61,313.9 636.71,317.99 637.74,319.4" fill="none" stroke="#4e2040" stroke-opacity="0.9" stroke-width="0.6"/>
<path d="M560.3,235.9 C560.77,235.46 562.02,232.38 563.11,233.26 C564.21,234.14 565.46,236.71 566.86,241.18 C568.27,245.64 569.69,253.62 571.55,260.02 C573.41,266.43 575.99,273.97 578.02,279.63 C580.05,285.28 582.17,290.81 583.74,293.95 C585.3,297.1 586.3,297.29 587.39,298.48 C588.49,299.67 589.03,300.68 590.3,301.12 C591.57,301.56 593.41,301.24 594.99,301.12 C596.57,300.99 598.21,300.11 599.77,300.36 C601.33,300.62 602.97,301.62 604.36,302.63 C605.75,303.63 606.08,305.39 608.11,306.4 C610.14,307.4 613.67,307.78 616.55,308.66 C619.42,309.54 622.86,310.42 625.36,311.67 C627.86,312.93 629.49,314.6 631.55,316.2 C633.61,317.8 636.71,320.44 637.74,321.29 L637.74,326 L560.3,326 Z" fill="#6b8a8a" fill-opacity="0.78"/>
<path d="M560.3,235.9 C560.77,235.46 562.02,232.38 563.11,233.26 C564.21,234.14 565.46,236.71 566.86,241.18 C568.27,245.64 569.69,253.62 571.55,260.02 C573.41,266.43 575.99,273.97 578.02,279.63 C580.05,285.28 582.17,290.81 583.74,293.95 C585.3,297.1 586.3,297.29 587.39,298.48 C588.49,299.67 589.03,300.68 590.3,301.12 C591.57,301.56 593.41,301.24 594.99,301.12 C596.57,300.99 598.21,300.11 599.77,300.36 C601.33,300.62 602.97,301.62 604.36,302.63 C605.75,303.63 606.08,305.39 608.11,306.4 C610.14,307.4 613.67,307.78 616.55,308.66 C619.42,309.54 622.86,310.42 625.36,311.67 C627.86,312.93 629.49,314.6 631.55,316.2 C633.61,317.8 636.71,320.44 637.74,321.29" fill="none" stroke="#6b8a8a" stroke-opacity="0.9" stroke-width="0.6"/>
<path d="M560.3,276.61 C561.19,276.3 563.77,274.54 565.64,274.73 C567.52,274.92 569.49,276.3 571.55,277.74 C573.61,279.19 575.99,280.7 578.02,283.4 C580.05,286.1 582,290.81 583.74,293.95 C585.47,297.1 586.86,300.05 588.42,302.25 C589.99,304.45 591.69,306.14 593.11,307.15 C594.53,308.16 595.55,307.97 596.96,308.28 C598.36,308.6 600,308.97 601.55,309.04 C603.1,309.1 604.52,308.97 606.24,308.66 C607.96,308.34 609.83,307.9 611.86,307.15 C613.89,306.4 616.17,305.01 618.42,304.13 C620.67,303.25 623.57,302.31 625.36,301.87 C627.16,301.43 627.86,301.37 629.21,301.5 C630.55,301.62 632,302 633.42,302.63 C634.85,303.25 637.02,304.83 637.74,305.26 L637.74,326 L560.3,326 Z" fill="#b09b20" fill-opacity="0.8"/>
<path d="M560.3,276.61 C561.19,276.3 563.77,274.54 565.64,274.73 C567.52,274.92 569.49,276.3 571.55,277.74 C573.61,279.19 575.99,280.7 578.02,283.4 C580.05,286.1 582,290.81 583.74,293.95 C585.47,297.1 586.86,300.05 588.42,302.25 C589.99,304.45 591.69,306.14 593.11,307.15 C594.53,308.16 595.55,307.97 596.96,308.28 C598.36,308.6 600,308.97 601.55,309.04 C603.1,309.1 604.52,308.97 606.24,308.66 C607.96,308.34 609.83,307.9 611.86,307.15 C613.89,306.4 616.17,305.01 618.42,304.13 C620.67,303.25 623.57,302.31 625.36,301.87 C627.16,301.43 627.86,301.37 629.21,301.5 C630.55,301.62 632,302 633.42,302.63 C634.85,303.25 637.02,304.83 637.74,305.26" fill="none" stroke="#b09b20" stroke-opacity="0.9" stroke-width="0.6"/>
<line x1="554.8" y1="250.6" x2="556.5" y2="250.6" stroke="#555" stroke-width="0.7"/>
<text x="552.4" y="252.2" font-size="8.6" fill="#424242" text-anchor="end" transform="translate(552.4 252.2) scale(1 1.12) translate(-552.4 -252.2)">20%</text>
<line x1="554.8" y1="288.3" x2="556.5" y2="288.3" stroke="#555" stroke-width="0.7"/>
<text x="552.4" y="289.9" font-size="8.6" fill="#424242" text-anchor="end" transform="translate(552.4 289.9) scale(1 1.12) translate(-552.4 -289.9)">10%</text>
<line x1="554.8" y1="326" x2="556.5" y2="326" stroke="#555" stroke-width="0.7"/>
<text x="552.4" y="327.6" font-size="8.6" fill="#424242" text-anchor="end" transform="translate(552.4 327.6) scale(1 1.12) translate(-552.4 -327.6)">0%</text>
<line x1="560.3" y1="331.2" x2="560.3" y2="333.6" stroke="#333" stroke-width="0.8"/>
<text x="560.3" y="338.6" font-size="6.5" fill="#424242" text-anchor="middle" transform="translate(560.3 338.6) scale(1 1.12) translate(-560.3 -338.6)">0.0</text>
<line x1="579.05" y1="331.2" x2="579.05" y2="333.6" stroke="#333" stroke-width="0.8"/>
<text x="579.05" y="338.6" font-size="6.5" fill="#424242" text-anchor="middle" transform="translate(579.05 338.6) scale(1 1.12) translate(-579.05 -338.6)">0.2</text>
<line x1="597.8" y1="331.2" x2="597.8" y2="333.6" stroke="#333" stroke-width="0.8"/>
<text x="597.8" y="338.6" font-size="6.5" fill="#424242" text-anchor="middle" transform="translate(597.8 338.6) scale(1 1.12) translate(-597.8 -338.6)">0.4</text>
<line x1="616.55" y1="331.2" x2="616.55" y2="333.6" stroke="#333" stroke-width="0.8"/>
<text x="616.55" y="338.6" font-size="6.5" fill="#424242" text-anchor="middle" transform="translate(616.55 338.6) scale(1 1.12) translate(-616.55 -338.6)">0.6</text>
<line x1="635.3" y1="331.2" x2="635.3" y2="333.6" stroke="#333" stroke-width="0.8"/>
<text x="635.3" y="338.6" font-size="6.5" fill="#424242" text-anchor="middle" transform="translate(635.3 338.6) scale(1 1.12) translate(-635.3 -338.6)">0.8</text>
<text x="597.5" y="351" font-size="8.35" fill="#333333" text-anchor="middle" transform="translate(597.5 351) scale(1 1.12) translate(-597.5 -351)">High-frequency</text>
<text x="544" y="366.6" font-size="11.7" fill="#333333" text-anchor="middle" transform="translate(544 366.6) scale(1 1.12) translate(-544 -366.6)">CNV Frequency</text>
<rect x="38.5" y="476.2" width="163.8" height="124.6" fill="none" stroke="#b3b3b3" stroke-width="0.7"/>
<line x1="38.5" y1="476.2" x2="38.5" y2="601" stroke="#333" stroke-width="1"/>
<rect x="41" y="546.18" width="13" height="49.02" fill="#6b8a8a"/>
<rect x="41" y="492.56" width="13" height="53.62" fill="#b09b20"/>
<rect x="41" y="481.83" width="13" height="10.72" fill="#6f4a66"/>
<line x1="47.5" y1="600.8" x2="47.5" y2="602.6" stroke="#333" stroke-width="0.9"/>
<text x="46.3" y="610.9" font-size="8.8" fill="#424242" text-anchor="middle">1</text>
<rect x="55.52" y="582.18" width="13" height="13.02" fill="#6b8a8a"/>
<rect x="55.52" y="542.73" width="13" height="39.45" fill="#b09b20"/>
<rect x="55.52" y="536.22" width="13" height="6.51" fill="#6f4a66"/>
<line x1="62.02" y1="600.8" x2="62.02" y2="602.6" stroke="#333" stroke-width="0.9"/>
<text x="60.82" y="610.9" font-size="8.8" fill="#424242" text-anchor="middle">2</text>
<rect x="70.04" y="594.05" width="13" height="1.15" fill="#6b8a8a"/>
<rect x="70.04" y="565.33" width="13" height="28.73" fill="#b09b20"/>
<rect x="70.04" y="562.65" width="13" height="2.68" fill="#6f4a66"/>
<line x1="76.54" y1="600.8" x2="76.54" y2="602.6" stroke="#333" stroke-width="0.9"/>
<text x="75.34" y="610.9" font-size="8.8" fill="#424242" text-anchor="middle">3</text>
<rect x="84.56" y="580.65" width="13" height="14.55" fill="#b09b20"/>
<line x1="91.06" y1="600.8" x2="91.06" y2="602.6" stroke="#333" stroke-width="0.9"/>
<text x="89.86" y="610.9" font-size="8.8" fill="#424242" text-anchor="middle">4</text>
<rect x="99.08" y="590.6" width="13" height="4.6" fill="#b09b20"/>
<rect x="99.08" y="589.46" width="13" height="1.15" fill="#6f4a66"/>
<line x1="105.58" y1="600.8" x2="105.58" y2="602.6" stroke="#333" stroke-width="0.9"/>
<text x="104.38" y="610.9" font-size="8.8" fill="#424242" text-anchor="middle">5</text>
<rect x="113.6" y="586.01" width="13" height="9.19" fill="#b09b20"/>
<line x1="120.1" y1="600.8" x2="120.1" y2="602.6" stroke="#333" stroke-width="0.9"/>
<text x="118.9" y="610.9" font-size="8.8" fill="#424242" text-anchor="middle">6</text>
<rect x="128.12" y="594.05" width="13" height="1.15" fill="#6b8a8a"/>
<rect x="128.12" y="588.69" width="13" height="5.36" fill="#b09b20"/>
<rect x="128.12" y="587.16" width="13" height="1.53" fill="#6f4a66"/>
<line x1="134.62" y1="600.8" x2="134.62" y2="602.6" stroke="#333" stroke-width="0.9"/>
<text x="133.42" y="610.9" font-size="8.8" fill="#424242" text-anchor="middle">7</text>
<rect x="142.64" y="594.05" width="13" height="1.15" fill="#6b8a8a"/>
<rect x="142.64" y="588.31" width="13" height="5.75" fill="#b09b20"/>
<line x1="149.14" y1="600.8" x2="149.14" y2="602.6" stroke="#333" stroke-width="0.9"/>
<text x="147.94" y="610.9" font-size="8.8" fill="#424242" text-anchor="middle">8</text>
<rect x="157.16" y="582.94" width="13" height="12.26" fill="#b09b20"/>
<line x1="163.66" y1="600.8" x2="163.66" y2="602.6" stroke="#333" stroke-width="0.9"/>
<text x="162.46" y="610.9" font-size="8.8" fill="#424242" text-anchor="middle">9</text>
<rect x="171.68" y="590.6" width="13" height="4.6" fill="#b09b20"/>
<rect x="171.68" y="589.84" width="13" height="0.77" fill="#6f4a66"/>
<line x1="178.18" y1="600.8" x2="178.18" y2="602.6" stroke="#333" stroke-width="0.9"/>
<text x="176.98" y="610.9" font-size="8.8" fill="#424242" text-anchor="middle">10</text>
<rect x="186.2" y="574.9" width="13" height="20.3" fill="#b09b20"/>
<rect x="186.2" y="572.99" width="13" height="1.91" fill="#6f4a66"/>
<line x1="192.7" y1="600.8" x2="192.7" y2="602.6" stroke="#333" stroke-width="0.9"/>
<text x="192.5" y="610.9" font-size="8.8" fill="#424242" text-anchor="middle">11</text>
<line x1="46.3" y1="482" x2="48.7" y2="482" stroke="#666" stroke-width="0.6"/>
<line x1="35.6" y1="480.3" x2="38.5" y2="480.3" stroke="#333" stroke-width="0.8"/>
<text x="34.9" y="483.8" font-size="9" fill="#424242" text-anchor="end">30%</text>
<line x1="35.6" y1="518.6" x2="38.5" y2="518.6" stroke="#333" stroke-width="0.8"/>
<text x="34.9" y="522.1" font-size="9" fill="#424242" text-anchor="end">20%</text>
<line x1="35.6" y1="556.9" x2="38.5" y2="556.9" stroke="#333" stroke-width="0.8"/>
<text x="34.9" y="560.4" font-size="9" fill="#424242" text-anchor="end">10%</text>
<line x1="35.6" y1="595.2" x2="38.5" y2="595.2" stroke="#333" stroke-width="0.8"/>
<text x="34.9" y="598.7" font-size="9" fill="#424242" text-anchor="end">0%</text>
<text x="10.6" y="533.2" font-size="11.9" fill="#333333" text-anchor="middle" transform="rotate(-90 10.6 533.2)">Frequency</text>
<text x="124" y="627.4" font-size="12" fill="#333333" text-anchor="middle">Number of populations</text>
<rect x="264.5" y="423.8" width="161.2" height="12.5" fill="#fff" stroke="#333" stroke-width="0.8"/>
<rect x="429.3" y="423.8" width="161.2" height="12.5" fill="#fff" stroke="#333" stroke-width="0.8"/>
<text x="346.3" y="432.5" font-size="9.5" fill="#333333" text-anchor="middle">Core</text>
<text x="514" y="432.5" font-size="9.5" fill="#333333" text-anchor="middle">Accessory</text>
<line x1="266.2" y1="439.8" x2="266.2" y2="618.2" stroke="#333" stroke-width="1"/>
<line x1="265.7" y1="618" x2="425.6" y2="618" stroke="#333" stroke-width="1"/>
<line x1="431.9" y1="618" x2="591.7" y2="618" stroke="#333" stroke-width="1"/>
<line x1="263.4" y1="475.5" x2="266.2" y2="475.5" stroke="#333" stroke-width="0.8"/>
<text x="261" y="478.7" font-size="8.9" fill="#424242" text-anchor="end">100</text>
<line x1="263.4" y1="542.5" x2="266.2" y2="542.5" stroke="#333" stroke-width="0.8"/>
<text x="261" y="545.7" font-size="8.9" fill="#424242" text-anchor="end">10</text>
<line x1="263.4" y1="609.4" x2="266.2" y2="609.4" stroke="#333" stroke-width="0.8"/>
<text x="261" y="612.6" font-size="8.9" fill="#424242" text-anchor="end">1</text>
<line x1="298.4" y1="618" x2="298.4" y2="620.3" stroke="#333" stroke-width="0.8"/>
<text x="298.4" y="630.3" font-size="10.6" fill="#333333" text-anchor="middle">singleton</text>
<line x1="345.7" y1="618" x2="345.7" y2="620.3" stroke="#333" stroke-width="0.8"/>
<text x="345.7" y="630.3" font-size="10.6" fill="#333333" text-anchor="middle">rare</text>
<line x1="399.7" y1="618" x2="399.7" y2="620.3" stroke="#333" stroke-width="0.8"/>
<text x="399.7" y="630.3" font-size="10.6" fill="#333333" text-anchor="middle">common</text>
<line x1="463.2" y1="618" x2="463.2" y2="620.3" stroke="#333" stroke-width="0.8"/>
<text x="463.2" y="630.3" font-size="10.6" fill="#333333" text-anchor="middle">singleton</text>
<line x1="510.5" y1="618" x2="510.5" y2="620.3" stroke="#333" stroke-width="0.8"/>
<text x="510.5" y="630.3" font-size="10.6" fill="#333333" text-anchor="middle">rare</text>
<line x1="564.5" y1="618" x2="564.5" y2="620.3" stroke="#333" stroke-width="0.8"/>
<text x="564.5" y="630.3" font-size="10.6" fill="#333333" text-anchor="middle">common</text>
<text x="433.2" y="651.3" font-size="11.7" fill="#333333" text-anchor="middle">CNV frequency</text>
<text x="242.4" y="533" font-size="11.9" fill="#333333" text-anchor="middle" transform="rotate(-90 242.4 533)">Length (kb)</text>
<text x="293.4" y="446.1" font-size="6.2" fill="#1a1a1a" text-anchor="middle">p=0.0005</text>
<text x="347.4" y="446.1" font-size="6.2" fill="#1a1a1a" text-anchor="middle">p=0.038</text>
<text x="400" y="446.1" font-size="6.2" fill="#1a1a1a" text-anchor="middle">p=0.89</text>
<text x="462.3" y="446.1" font-size="6.2" fill="#1a1a1a" text-anchor="middle">p=0.007</text>
<text x="509" y="446.1" font-size="6.2" fill="#1a1a1a" text-anchor="middle">p=0.39</text>
<text x="562.2" y="446.1" font-size="6.2" fill="#1a1a1a" text-anchor="middle">p=0.48</text>
<line x1="286.55" y1="529.3" x2="286.55" y2="569.6" stroke="#333" stroke-width="0.8"/>
<line x1="286.55" y1="609.6" x2="286.55" y2="609.6" stroke="#333" stroke-width="0.8"/>
<rect x="278.2" y="569.6" width="16.7" height="40" fill="#b09b20"/>
<line x1="278.2" y1="589.5" x2="294.9" y2="589.5" stroke="#262626" stroke-width="1.7"/>
<text x="286.55" y="587.2" font-size="8.4" fill="#ffffff" text-anchor="middle">30</text>
<line x1="305.4" y1="448" x2="305.4" y2="492.1" stroke="#333" stroke-width="0.8"/>
<line x1="305.4" y1="541.3" x2="305.4" y2="569.6" stroke="#333" stroke-width="0.8"/>
<rect x="297.2" y="492.1" width="16.4" height="49.2" fill="#6b8a8a"/>
<line x1="297.2" y1="519" x2="313.6" y2="519" stroke="#262626" stroke-width="1.7"/>
<text x="305.4" y="516.7" font-size="8.4" fill="#ffffff" text-anchor="middle">6</text>
<line x1="336.5" y1="525.8" x2="336.5" y2="563.2" stroke="#333" stroke-width="0.8"/>
<line x1="336.5" y1="589.5" x2="336.5" y2="609.6" stroke="#333" stroke-width="0.8"/>
<rect x="328.2" y="563.2" width="16.6" height="26.3" fill="#b09b20"/>
<line x1="328.2" y1="569.6" x2="344.8" y2="569.6" stroke="#262626" stroke-width="1.7"/>
<text x="336.5" y="577.9" font-size="8.4" fill="#ffffff" text-anchor="middle">55</text>
<line x1="355.5" y1="535.2" x2="355.5" y2="539" stroke="#333" stroke-width="0.8"/>
<line x1="355.5" y1="550" x2="355.5" y2="557.4" stroke="#333" stroke-width="0.8"/>
<rect x="347.2" y="539" width="16.6" height="11" fill="#6b8a8a"/>
<line x1="347.2" y1="542.5" x2="363.8" y2="542.5" stroke="#262626" stroke-width="1.7"/>
<text x="355.5" y="547.2" font-size="8.4" fill="#ffffff" text-anchor="middle">3</text>
<line x1="386.4" y1="503.2" x2="386.4" y2="537.5" stroke="#333" stroke-width="0.8"/>
<line x1="386.4" y1="569.6" x2="386.4" y2="609.6" stroke="#333" stroke-width="0.8"/>
<rect x="378.1" y="537.5" width="16.6" height="32.1" fill="#b09b20"/>
<line x1="378.1" y1="557.4" x2="394.7" y2="557.4" stroke="#262626" stroke-width="1.7"/>
<text x="386.4" y="555.2" font-size="8.4" fill="#ffffff" text-anchor="middle">114</text>
<line x1="405.7" y1="524.5" x2="405.7" y2="545.7" stroke="#333" stroke-width="0.8"/>
<line x1="405.7" y1="588.6" x2="405.7" y2="609.6" stroke="#333" stroke-width="0.8"/>
<rect x="397.4" y="545.7" width="16.6" height="42.9" fill="#6b8a8a"/>
<line x1="397.4" y1="566.7" x2="414" y2="566.7" stroke="#262626" stroke-width="1.7"/>
<text x="405.7" y="564.5" font-size="8.4" fill="#ffffff" text-anchor="middle">2</text>
<line x1="452.55" y1="529.3" x2="452.55" y2="563.2" stroke="#333" stroke-width="0.8"/>
<line x1="452.55" y1="589.5" x2="452.55" y2="609.6" stroke="#333" stroke-width="0.8"/>
<rect x="444.2" y="563.2" width="16.7" height="26.3" fill="#b09b20"/>
<line x1="444.2" y1="577.8" x2="460.9" y2="577.8" stroke="#262626" stroke-width="1.7"/>
<text x="452.55" y="576.1" font-size="8.4" fill="#ffffff" text-anchor="middle">85</text>
<line x1="471.55" y1="471.1" x2="471.55" y2="513.1" stroke="#333" stroke-width="0.8"/>
<line x1="471.55" y1="575.5" x2="471.55" y2="609.6" stroke="#333" stroke-width="0.8"/>
<rect x="463.2" y="513.1" width="16.7" height="62.4" fill="#6b8a8a"/>
<line x1="463.2" y1="549.5" x2="479.9" y2="549.5" stroke="#262626" stroke-width="1.7"/>
<text x="471.55" y="546.8" font-size="8.4" fill="#ffffff" text-anchor="middle">14</text>
<line x1="502.8" y1="463.2" x2="502.8" y2="537.5" stroke="#333" stroke-width="0.8"/>
<line x1="502.8" y1="589.5" x2="502.8" y2="609.6" stroke="#333" stroke-width="0.8"/>
<rect x="494.5" y="537.5" width="16.6" height="52" fill="#b09b20"/>
<line x1="494.5" y1="562.9" x2="511.1" y2="562.9" stroke="#262626" stroke-width="1.7"/>
<text x="502.8" y="560.1" font-size="8.4" fill="#ffffff" text-anchor="middle">254</text>
<line x1="521.6" y1="463.2" x2="521.6" y2="526.4" stroke="#333" stroke-width="0.8"/>
<line x1="521.6" y1="580.7" x2="521.6" y2="609.6" stroke="#333" stroke-width="0.8"/>
<rect x="513.4" y="526.4" width="16.4" height="54.3" fill="#6b8a8a"/>
<line x1="513.4" y1="553" x2="529.8" y2="553" stroke="#262626" stroke-width="1.7"/>
<text x="521.6" y="549.3" font-size="8.4" fill="#ffffff" text-anchor="middle">12</text>
<line x1="552.7" y1="463.2" x2="552.7" y2="520.1" stroke="#333" stroke-width="0.8"/>
<line x1="552.7" y1="557.4" x2="552.7" y2="609.6" stroke="#333" stroke-width="0.8"/>
<rect x="544.4" y="520.1" width="16.6" height="37.3" fill="#b09b20"/>
<line x1="544.4" y1="539.9" x2="561" y2="539.9" stroke="#262626" stroke-width="1.7"/>
<text x="552.7" y="536.1" font-size="8.4" fill="#ffffff" text-anchor="middle">553</text>
<line x1="571.7" y1="504.9" x2="571.7" y2="508.4" stroke="#333" stroke-width="0.8"/>
<line x1="571.7" y1="536.9" x2="571.7" y2="569" stroke="#333" stroke-width="0.8"/>
<rect x="563.4" y="508.4" width="16.6" height="28.5" fill="#6b8a8a"/>
<line x1="563.4" y1="534.9" x2="580" y2="534.9" stroke="#262626" stroke-width="1.7"/>
<text x="571.7" y="532.6" font-size="8.4" fill="#ffffff" text-anchor="middle">5</text>
<circle cx="337" cy="519.5" r="1.05" fill="#666"/>
<circle cx="452.7" cy="463.5" r="1.05" fill="#666"/>
<circle cx="452.7" cy="516.3" r="1.05" fill="#666"/>
<text x="595.2" y="516.9" font-size="11.75" fill="#333333">Gene CNV event</text>
<rect x="595.2" y="527.4" width="9.1" height="9.1" fill="#6f4a66"/>
<text x="607.6" y="535.1" font-size="10.7" fill="#333333">partial deletion</text>
<rect x="595.2" y="538.8" width="9.1" height="9.1" fill="#b09b20"/>
<text x="607.6" y="546.5" font-size="10.7" fill="#333333">deletion</text>
<rect x="595.2" y="550.2" width="9.1" height="9.1" fill="#6b8a8a"/>
<text x="606.9" y="557.9" font-size="10.7" fill="#333333">duplication</text>
<rect x="51.2" y="683.2" width="207.1" height="175.6" fill="none" stroke="#b3b3b3" stroke-width="0.7"/>
<path d="M60.59,744.41 C60.85,737.79 61.6,713.49 62.18,704.67 C62.76,695.86 63.41,691.1 64.06,691.51 C64.71,691.92 65.46,701.65 66.08,707.16 C66.71,712.66 67.24,719.66 67.82,724.54 C68.4,729.43 69,731.7 69.55,736.46 C70.11,741.22 70.42,747.56 71.14,753.1 C71.87,758.65 72.78,764.73 73.89,769.74 C75,774.75 76.4,779.39 77.8,783.15 C79.19,786.92 80.88,789.4 82.28,792.34 C83.68,795.28 84.79,797.18 86.18,800.78 C87.58,804.39 89.32,810.31 90.67,813.95 C92.02,817.59 93.05,820.16 94.28,822.64 C95.51,825.12 96.59,826.7 98.04,828.85 C99.49,831 101.27,833.69 102.96,835.55 C104.64,837.42 106.11,838.82 108.16,840.02 C110.21,841.22 112.6,842.09 115.25,842.76 C117.9,843.42 121.42,843.96 124.07,844 C126.72,844.04 129.13,843.58 131.15,843 C133.18,842.42 134.53,840.48 136.21,840.52 C137.9,840.56 138.99,842.38 141.28,843.25 C143.57,844.12 146.58,845.03 149.95,845.74 C153.33,846.44 157.18,846.94 161.52,847.47 C165.86,848.01 171.16,848.55 175.98,848.96 C180.8,849.38 185.62,849.71 190.44,849.96 C195.26,850.21 198.87,850.31 204.9,850.45 C210.92,850.6 219.36,850.74 226.59,850.83 C233.82,850.91 244.66,850.93 248.28,850.95 L248.28,851.2 L60.59,851.2 Z" fill="#b09b20" fill-opacity="0.9"/>
<path d="M60.59,851.2 L60.59,744.41 C60.85,737.79 61.6,713.49 62.18,704.67 C62.76,695.86 63.41,691.1 64.06,691.51 C64.71,691.92 65.46,701.65 66.08,707.16 C66.71,712.66 67.24,719.66 67.82,724.54 C68.4,729.43 69,731.7 69.55,736.46 C70.11,741.22 70.42,747.56 71.14,753.1 C71.87,758.65 72.78,764.73 73.89,769.74 C75,774.75 76.4,779.39 77.8,783.15 C79.19,786.92 80.88,789.4 82.28,792.34 C83.68,795.28 84.79,797.18 86.18,800.78 C87.58,804.39 89.32,810.31 90.67,813.95 C92.02,817.59 93.05,820.16 94.28,822.64 C95.51,825.12 96.59,826.7 98.04,828.85 C99.49,831 101.27,833.69 102.96,835.55 C104.64,837.42 106.11,838.82 108.16,840.02 C110.21,841.22 112.6,842.09 115.25,842.76 C117.9,843.42 121.42,843.96 124.07,844 C126.72,844.04 129.13,843.58 131.15,843 C133.18,842.42 134.53,840.48 136.21,840.52 C137.9,840.56 138.99,842.38 141.28,843.25 C143.57,844.12 146.58,845.03 149.95,845.74 C153.33,846.44 157.18,846.94 161.52,847.47 C165.86,848.01 171.16,848.55 175.98,848.96 C180.8,849.38 185.62,849.71 190.44,849.96 C195.26,850.21 198.87,850.31 204.9,850.45 C210.92,850.6 219.36,850.74 226.59,850.83 C233.82,850.91 244.66,850.93 248.28,850.95 L248.28,851.2" fill="none" stroke="#333" stroke-opacity="0.75" stroke-width="0.55"/>
<path d="M60.59,754.34 C60.88,749.17 61.65,730.83 62.32,723.3 C63,715.77 63.87,709.56 64.64,709.14 C65.41,708.73 66.13,716.18 66.95,720.82 C67.77,725.45 68.86,731.54 69.55,736.96 C70.25,742.38 70.42,747.85 71.14,753.35 C71.87,758.86 72.78,764.98 73.89,769.99 C75,775 76.4,779.63 77.8,783.4 C79.19,787.17 80.88,789.65 82.28,792.59 C83.68,795.53 84.79,797.39 86.18,801.03 C87.58,804.68 89.32,810.76 90.67,814.44 C92.02,818.13 93.05,820.69 94.28,823.14 C95.51,825.58 96.59,826.99 98.04,829.1 C99.49,831.21 101.27,833.94 102.96,835.8 C104.64,837.66 106.11,839.07 108.16,840.27 C110.21,841.47 112.6,842.34 115.25,843 C117.9,843.67 121.42,844.08 124.07,844.25 C126.72,844.41 129.13,844.25 131.15,844 C133.18,843.75 134.53,842.8 136.21,842.76 C137.9,842.71 138.99,843.25 141.28,843.75 C143.57,844.25 146.58,845.12 149.95,845.74 C153.33,846.36 157.18,846.94 161.52,847.47 C165.86,848.01 171.16,848.55 175.98,848.96 C180.8,849.38 185.62,849.71 190.44,849.96 C195.26,850.21 198.87,850.31 204.9,850.45 C210.92,850.6 219.36,850.74 226.59,850.83 C233.82,850.91 244.66,850.93 248.28,850.95 L248.28,851.2 L60.59,851.2 Z" fill="#6b8a8a" fill-opacity="0.85"/>
<path d="M60.59,851.2 L60.59,754.34 C60.88,749.17 61.65,730.83 62.32,723.3 C63,715.77 63.87,709.56 64.64,709.14 C65.41,708.73 66.13,716.18 66.95,720.82 C67.77,725.45 68.86,731.54 69.55,736.96 C70.25,742.38 70.42,747.85 71.14,753.35 C71.87,758.86 72.78,764.98 73.89,769.99 C75,775 76.4,779.63 77.8,783.4 C79.19,787.17 80.88,789.65 82.28,792.59 C83.68,795.53 84.79,797.39 86.18,801.03 C87.58,804.68 89.32,810.76 90.67,814.44 C92.02,818.13 93.05,820.69 94.28,823.14 C95.51,825.58 96.59,826.99 98.04,829.1 C99.49,831.21 101.27,833.94 102.96,835.8 C104.64,837.66 106.11,839.07 108.16,840.27 C110.21,841.47 112.6,842.34 115.25,843 C117.9,843.67 121.42,844.08 124.07,844.25 C126.72,844.41 129.13,844.25 131.15,844 C133.18,843.75 134.53,842.8 136.21,842.76 C137.9,842.71 138.99,843.25 141.28,843.75 C143.57,844.25 146.58,845.12 149.95,845.74 C153.33,846.36 157.18,846.94 161.52,847.47 C165.86,848.01 171.16,848.55 175.98,848.96 C180.8,849.38 185.62,849.71 190.44,849.96 C195.26,850.21 198.87,850.31 204.9,850.45 C210.92,850.6 219.36,850.74 226.59,850.83 C233.82,850.91 244.66,850.93 248.28,850.95 L248.28,851.2" fill="none" stroke="#333" stroke-opacity="0.75" stroke-width="0.55"/>
<path d="M60.59,772.22 C60.9,768.42 61.7,755.01 62.47,749.38 C63.24,743.75 64.32,738.7 65.22,738.45 C66.11,738.2 66.93,744.33 67.82,747.89 C68.71,751.45 69.65,755.92 70.57,759.81 C71.48,763.7 72.3,767.26 73.31,771.23 C74.33,775.2 75.53,780.13 76.64,783.65 C77.75,787.17 78.76,789.86 79.97,792.34 C81.17,794.82 82.69,796.89 83.87,798.55 C85.05,800.21 86.01,800.87 87.05,802.28 C88.09,803.68 88.47,804.18 90.09,806.99 C91.7,809.81 94.71,815.73 96.74,819.16 C98.76,822.6 100.33,825.08 102.23,827.61 C104.14,830.13 105.99,832.41 108.16,834.31 C110.33,836.22 112.6,837.71 115.25,839.03 C117.9,840.36 121.18,841.39 124.07,842.26 C126.96,843.13 128.77,843.63 132.6,844.25 C136.43,844.87 142.24,845.41 147.06,845.98 C151.88,846.56 156.7,847.23 161.52,847.72 C166.34,848.22 171.16,848.59 175.98,848.96 C180.8,849.34 185.62,849.71 190.44,849.96 C195.26,850.21 198.87,850.31 204.9,850.45 C210.92,850.6 219.36,850.74 226.59,850.83 C233.82,850.91 244.66,850.93 248.28,850.95 L248.28,851.2 L60.59,851.2 Z" fill="#d4d4d4" fill-opacity="0.8"/>
<path d="M60.59,851.2 L60.59,772.22 C60.9,768.42 61.7,755.01 62.47,749.38 C63.24,743.75 64.32,738.7 65.22,738.45 C66.11,738.2 66.93,744.33 67.82,747.89 C68.71,751.45 69.65,755.92 70.57,759.81 C71.48,763.7 72.3,767.26 73.31,771.23 C74.33,775.2 75.53,780.13 76.64,783.65 C77.75,787.17 78.76,789.86 79.97,792.34 C81.17,794.82 82.69,796.89 83.87,798.55 C85.05,800.21 86.01,800.87 87.05,802.28 C88.09,803.68 88.47,804.18 90.09,806.99 C91.7,809.81 94.71,815.73 96.74,819.16 C98.76,822.6 100.33,825.08 102.23,827.61 C104.14,830.13 105.99,832.41 108.16,834.31 C110.33,836.22 112.6,837.71 115.25,839.03 C117.9,840.36 121.18,841.39 124.07,842.26 C126.96,843.13 128.77,843.63 132.6,844.25 C136.43,844.87 142.24,845.41 147.06,845.98 C151.88,846.56 156.7,847.23 161.52,847.72 C166.34,848.22 171.16,848.59 175.98,848.96 C180.8,849.34 185.62,849.71 190.44,849.96 C195.26,850.21 198.87,850.31 204.9,850.45 C210.92,850.6 219.36,850.74 226.59,850.83 C233.82,850.91 244.66,850.93 248.28,850.95 L248.28,851.2" fill="none" stroke="#333" stroke-opacity="0.75" stroke-width="0.55"/>
<line x1="60.59" y1="851.2" x2="248.28" y2="851.2" stroke="#333" stroke-width="0.7"/>
<line x1="46.9" y1="702.19" x2="51.2" y2="702.19" stroke="#222" stroke-width="1.1"/>
<text x="44.6" y="705.59" font-size="9.5" fill="#333333" text-anchor="end">6e−05</text>
<line x1="46.9" y1="751.86" x2="51.2" y2="751.86" stroke="#222" stroke-width="1.1"/>
<text x="44.6" y="755.26" font-size="9.5" fill="#333333" text-anchor="end">4e−05</text>
<line x1="46.9" y1="801.53" x2="51.2" y2="801.53" stroke="#222" stroke-width="1.1"/>
<text x="44.6" y="804.93" font-size="9.5" fill="#333333" text-anchor="end">2e−05</text>
<line x1="46.9" y1="851.2" x2="51.2" y2="851.2" stroke="#222" stroke-width="1.1"/>
<text x="44.6" y="854.6" font-size="9.5" fill="#333333" text-anchor="end">0e+00</text>
<line x1="60.3" y1="858.8" x2="60.3" y2="861.6" stroke="#222" stroke-width="1.1"/>
<text x="60.3" y="877" font-size="9.2" fill="#333333" text-anchor="middle">0</text>
<line x1="132.6" y1="858.8" x2="132.6" y2="861.6" stroke="#222" stroke-width="1.1"/>
<text x="132.6" y="877" font-size="9.2" fill="#333333" text-anchor="middle">50</text>
<line x1="204.9" y1="858.8" x2="204.9" y2="861.6" stroke="#222" stroke-width="1.1"/>
<text x="204.9" y="877" font-size="9.2" fill="#333333" text-anchor="middle">100</text>
<text x="157.4" y="893.5" font-size="11.8" fill="#333333" text-anchor="middle">Distance to closest TE (kb)</text>
<text x="11.2" y="773.7" font-size="11.8" fill="#333333" text-anchor="middle" transform="rotate(-90 11.2 773.7)">Density</text>
<rect x="163.3" y="695.5" width="85.3" height="83.7" fill="#fff" stroke="#b3b3b3" stroke-width="0.7"/>
<line x1="159.3" y1="707.3" x2="163.4" y2="707.3" stroke="#222" stroke-width="1"/>
<text x="157.1" y="709.9" font-size="7.3" fill="#424242" text-anchor="end">15</text>
<line x1="159.3" y1="730.1" x2="163.4" y2="730.1" stroke="#222" stroke-width="1"/>
<text x="157.1" y="732.7" font-size="7.3" fill="#424242" text-anchor="end">10</text>
<line x1="159.3" y1="752.9" x2="163.4" y2="752.9" stroke="#222" stroke-width="1"/>
<text x="157.1" y="755.5" font-size="7.3" fill="#424242" text-anchor="end">5</text>
<line x1="159.3" y1="775.7" x2="163.4" y2="775.7" stroke="#222" stroke-width="1"/>
<text x="157.1" y="778.3" font-size="7.3" fill="#424242" text-anchor="end">0</text>
<text x="128.9" y="735.7" font-size="10.9" fill="#333333" text-anchor="middle" transform="rotate(-90 128.9 735.7)">Distance to</text>
<text x="140.8" y="735.7" font-size="10.9" fill="#333333" text-anchor="middle" transform="rotate(-90 140.8 735.7)">closest TE (kb)</text>
<line x1="179.6" y1="760.4" x2="179.6" y2="768.7" stroke="#555" stroke-width="0.6"/>
<line x1="179.6" y1="774.9" x2="179.6" y2="775.9" stroke="#555" stroke-width="0.6"/>
<rect x="169.5" y="768.7" width="20.2" height="6.2" fill="#b09b20" stroke="#777" stroke-width="0.35"/>
<line x1="169.5" y1="773.6" x2="189.7" y2="773.6" stroke="#8a7a20" stroke-width="0.7"/>
<line x1="179.6" y1="760.4" x2="179.6" y2="749.5" stroke="#2a2a2a" stroke-width="2.5" stroke-linecap="round" stroke-opacity="0.9"/>
<line x1="206.45" y1="759.7" x2="206.45" y2="768" stroke="#555" stroke-width="0.6"/>
<line x1="206.45" y1="774.6" x2="206.45" y2="775.6" stroke="#555" stroke-width="0.6"/>
<rect x="196.5" y="768" width="19.9" height="6.6" fill="#6b8a8a" stroke="#777" stroke-width="0.35"/>
<line x1="196.5" y1="772.1" x2="216.4" y2="772.1" stroke="#4a6262" stroke-width="0.7"/>
<line x1="206.45" y1="759.7" x2="206.45" y2="744.4" stroke="#2a2a2a" stroke-width="2.5" stroke-linecap="round" stroke-opacity="0.9"/>
<line x1="232.75" y1="752.9" x2="232.75" y2="765" stroke="#555" stroke-width="0.6"/>
<line x1="232.75" y1="773.8" x2="232.75" y2="774.8" stroke="#555" stroke-width="0.6"/>
<rect x="222.8" y="765" width="19.9" height="8.8" fill="#d9d9d9" stroke="#777" stroke-width="0.35"/>
<line x1="222.8" y1="770.3" x2="242.7" y2="770.3" stroke="#777" stroke-width="0.7"/>
<line x1="232.75" y1="752.9" x2="232.75" y2="716.5" stroke="#2a2a2a" stroke-width="2.5" stroke-linecap="round" stroke-opacity="0.9"/>
<circle cx="179.5" cy="746.1" r="1.2" fill="#444" fill-opacity="0.7"/>
<circle cx="179.5" cy="743.0" r="1.2" fill="#444" fill-opacity="0.7"/>
<circle cx="179.5" cy="737.7" r="1.2" fill="#444" fill-opacity="0.7"/>
<circle cx="179.5" cy="734.7" r="1.2" fill="#444" fill-opacity="0.7"/>
<circle cx="232.6" cy="715.8" r="1.2" fill="#444" fill-opacity="0.7"/>
<path d="M179.4,717.8 L179.4,715.4 L206.3,715.4 L206.3,717.8" fill="none" stroke="#555" stroke-width="0.5"/>
<text x="192.9" y="713.9" font-size="5.8" fill="#333" text-anchor="middle">p=0.0041</text>
<path d="M179.4,711.6999999999999 L179.4,709.3 L232.6,709.3 L232.6,711.6999999999999" fill="none" stroke="#555" stroke-width="0.5"/>
<text x="206" y="707.8" font-size="5.8" fill="#333" text-anchor="middle">p&lt;2.22e-16</text>
<path d="M206.3,704.4 L206.3,702.0 L232.6,702.0 L232.6,704.4" fill="none" stroke="#555" stroke-width="0.5"/>
<text x="219.5" y="700.5" font-size="5.8" fill="#333" text-anchor="middle">p=2.22e-16</text>
<text x="265.7" y="757.6" font-size="11.75" fill="#333333">Gene CNV event</text>
<rect x="266" y="764" width="8.9" height="8.9" fill="#b09b20"/>
<text x="277.4" y="771.1" font-size="10.7" fill="#333333">deletion</text>
<rect x="266" y="775.5" width="8.9" height="8.9" fill="#6b8a8a"/>
<text x="277.4" y="782.6" font-size="10.7" fill="#333333">duplication</text>
<rect x="266" y="787" width="8.9" height="8.9" fill="#d9d9d9"/>
<text x="277.4" y="794.1" font-size="10.7" fill="#333333">fixed</text>
<rect x="372.1" y="683" width="105.2" height="75.7" fill="#dadada"/>
<line x1="424.6" y1="683" x2="424.6" y2="758.7" stroke="#d0d0d0" stroke-width="0.6"/>
<line x1="372.1" y1="721.4" x2="477.3" y2="721.4" stroke="#e4e4e4" stroke-width="0.6"/>
<text x="373.5" y="690.8" font-size="8.5" fill="#2a2a2a">GO:0009404|</text>
<text x="373.5" y="699.6" font-size="8.5" fill="#2a2a2a">toxin</text>
<text x="373.5" y="708.4" font-size="8.5" fill="#2a2a2a">metabolic</text>
<text x="373.5" y="717.2" font-size="8.5" fill="#2a2a2a">process</text>
<text x="427" y="690.8" font-size="8.5" fill="#2a2a2a">GO:0043386|</text>
<text x="427" y="699.6" font-size="8.5" fill="#2a2a2a">mycotoxin</text>
<text x="427" y="708.4" font-size="8.5" fill="#2a2a2a">biosynthetic</text>
<text x="427" y="717.2" font-size="8.5" fill="#2a2a2a">process</text>
<text x="373.5" y="729.8" font-size="8.5" fill="#2a2a2a">GO:0009403|</text>
<text x="373.5" y="738.6" font-size="8.5" fill="#2a2a2a">toxin</text>
<text x="373.5" y="747.4" font-size="8.5" fill="#2a2a2a">biosynthetic</text>
<text x="373.5" y="756.2" font-size="8.5" fill="#2a2a2a">process</text>
<text x="427" y="729.8" font-size="8.5" fill="#2a2a2a">GO:0043385|</text>
<text x="427" y="738.6" font-size="8.5" fill="#2a2a2a">mycotoxin</text>
<text x="427" y="747.4" font-size="8.5" fill="#2a2a2a">metabolic</text>
<text x="427" y="756.2" font-size="8.5" fill="#2a2a2a">process</text>
<text x="476" y="757.1" font-size="4.8" fill="#a8a8a8" text-anchor="end" font-style="italic">0.0203</text>
<rect x="372.3" y="761.8" width="104.9" height="116.9" fill="#879f80"/>
<line x1="372.3" y1="820.2" x2="477.2" y2="820.2" stroke="#95ab8f" stroke-width="0.6"/>
<text x="373.4" y="772.1" font-size="12.8" fill="#2a2a2a">GO:0016864|</text>
<text x="373.4" y="786.4" font-size="12.8" fill="#2a2a2a">intramolecular</text>
<text x="373.4" y="800.6" font-size="12.8" fill="#2a2a2a">oxidoreductase</text>
<text x="373.4" y="814.8" font-size="12.8" fill="#2a2a2a">activity</text>
<text x="373.4" y="831.5" font-size="12.8" fill="#2a2a2a">GO:0003756|</text>
<text x="373.4" y="845.7" font-size="12.8" fill="#2a2a2a">protein disulfide</text>
<text x="373.4" y="859.9" font-size="12.8" fill="#2a2a2a">isomerase activity</text>
<text x="476.3" y="877.5" font-size="4.8" fill="#d8e0d6" text-anchor="end" font-style="italic">0.0403</text>
<rect x="480.1" y="683.1" width="43.1" height="41.6" fill="#dadada"/>
<text x="481" y="689.6" font-size="7" fill="#2a2a2a">GO:0044550|</text>
<text x="481" y="697.1" font-size="7" fill="#2a2a2a">secondary</text>
<text x="481" y="704.6" font-size="7" fill="#2a2a2a">metabolite</text>
<text x="481" y="712.1" font-size="7" fill="#2a2a2a">biosynthetic</text>
<text x="481" y="719.6" font-size="7" fill="#2a2a2a">proces...</text>
<text x="521.9" y="723.6" font-size="4.8" fill="#a8a8a8" text-anchor="end" font-style="italic">0.0271</text>
<rect x="479.7" y="727" width="43.5" height="45.4" fill="#879f80"/>
<text x="480.3" y="732.5" font-size="5.7" fill="#2a2a2a">GO:</text>
<text x="480.3" y="739" font-size="5.7" fill="#2a2a2a">0016684|</text>
<text x="480.3" y="745.6" font-size="5.7" fill="#2a2a2a">oxidoreductase</text>
<text x="480.3" y="752.1" font-size="5.7" fill="#2a2a2a">activity,</text>
<text x="480.3" y="758.5" font-size="5.7" fill="#2a2a2a">acting</text>
<text x="480.3" y="765" font-size="5.7" fill="#2a2a2a">on</text>
<text x="480.3" y="771.5" font-size="5.7" fill="#2a2a2a">perox...</text>
<text x="522" y="770.8" font-size="4.8" fill="#d8e0d6" text-anchor="end" font-style="italic">0.0348</text>
<rect x="525.4" y="683" width="57.2" height="25.6" fill="#879f80"/>
<text x="526.7" y="689.9" font-size="7.7" fill="#2a2a2a">GO:0046914|</text>
<text x="526.7" y="698.3" font-size="7.7" fill="#2a2a2a">transition metal</text>
<text x="526.7" y="706.7" font-size="7.7" fill="#2a2a2a">ion binding</text>
<text x="581.7" y="707.7" font-size="4.8" fill="#d8e0d6" text-anchor="end" font-style="italic">0.0417</text>
<rect x="585.1" y="683" width="48.7" height="23.9" fill="#879f80"/>
<text x="586" y="689.9" font-size="7.7" fill="#2a2a2a">GO:0003824|</text>
<text x="586" y="698.3" font-size="7.7" fill="#2a2a2a">catalytic</text>
<text x="586" y="706.7" font-size="7.7" fill="#2a2a2a">activity</text>
<text x="633" y="705.9" font-size="4.8" fill="#d8e0d6" text-anchor="end" font-style="italic">0.0295</text>
<rect x="525.4" y="711" width="57" height="28" fill="#879f80"/>
<text x="526.7" y="718.5" font-size="9.2" fill="#2a2a2a">GO:0008233|</text>
<text x="526.7" y="728.8" font-size="9.2" fill="#2a2a2a">peptidase</text>
<text x="526.7" y="738.6" font-size="9.2" fill="#2a2a2a">activity</text>
<text x="581.7" y="737.8" font-size="4.8" fill="#d8e0d6" text-anchor="end" font-style="italic">0.0087</text>
<rect x="585.1" y="709.4" width="48.7" height="29.7" fill="#879f80"/>
<text x="586" y="715" font-size="7" fill="#2a2a2a">GO:0140096|</text>
<text x="586" y="722.8" font-size="7" fill="#2a2a2a">catalytic</text>
<text x="586" y="730.6" font-size="7" fill="#2a2a2a">activity, acting</text>
<text x="586" y="738.4" font-size="7" fill="#2a2a2a">on a protein</text>
<text x="633" y="737.8" font-size="4.8" fill="#d8e0d6" text-anchor="end" font-style="italic">0.0235</text>
<rect x="525.4" y="741.8" width="53.6" height="30.6" fill="#879f80"/>
<text x="526.3" y="748" font-size="7.2" fill="#2a2a2a">GO:</text>
<text x="526.3" y="756.2" font-size="7.2" fill="#2a2a2a">0004175|</text>
<text x="526.3" y="764.3" font-size="7.2" fill="#2a2a2a">endopeptidase</text>
<text x="526.3" y="772" font-size="7.2" fill="#2a2a2a">activity</text>
<text x="578.2" y="771.2" font-size="4.8" fill="#d8e0d6" text-anchor="end" font-style="italic">0.0284</text>
<rect x="581.5" y="742" width="52.5" height="30.4" fill="#879f80"/>
<text x="582.7" y="749.9" font-size="8.6" fill="#2a2a2a">GO:0005506|</text>
<text x="582.7" y="758.6" font-size="8.6" fill="#2a2a2a">iron ion</text>
<text x="582.7" y="767.3" font-size="8.6" fill="#2a2a2a">binding</text>
<text x="633" y="771.2" font-size="4.8" fill="#d8e0d6" text-anchor="end" font-style="italic">0.0361</text>
<rect x="479.7" y="775" width="60.4" height="45.7" fill="#879f80"/>
<text x="480.3" y="780.7" font-size="7.2" fill="#2a2a2a">GO:</text>
<text x="480.3" y="788.6" font-size="7.2" fill="#2a2a2a">0004252|</text>
<text x="480.3" y="796.5" font-size="7.2" fill="#2a2a2a">serine−</text>
<text x="480.3" y="804.4" font-size="7.2" fill="#2a2a2a">type</text>
<text x="480.3" y="812.4" font-size="7.2" fill="#2a2a2a">endopeptidase</text>
<text x="480.3" y="820.3" font-size="7.2" fill="#2a2a2a">activity</text>
<text x="539" y="819.4" font-size="4.8" fill="#d8e0d6" text-anchor="end" font-style="italic">0.0641</text>
<rect x="542.1" y="775" width="45.9" height="45.7" fill="#879f80"/>
<text x="544" y="783.1" font-size="9" fill="#2a2a2a">GO:</text>
<text x="544" y="792.8" font-size="9" fill="#2a2a2a">0016209|</text>
<text x="544" y="802.4" font-size="9" fill="#2a2a2a">antioxidant</text>
<text x="544" y="812" font-size="9" fill="#2a2a2a">activity</text>
<text x="587" y="819.4" font-size="4.8" fill="#d8e0d6" text-anchor="end" font-style="italic">0.0133</text>
<rect x="591" y="775" width="43" height="46" fill="#dadada"/>
<text x="592.3" y="782.1" font-size="8.6" fill="#2a2a2a">GO:</text>
<text x="592.3" y="791.7" font-size="8.6" fill="#2a2a2a">0019748|</text>
<text x="592.3" y="801.3" font-size="8.6" fill="#2a2a2a">secondary</text>
<text x="592.3" y="810.9" font-size="8.6" fill="#2a2a2a">metabolic</text>
<text x="592.3" y="820.4" font-size="8.6" fill="#2a2a2a">process</text>
<text x="633" y="819" font-size="4.8" fill="#a8a8a8" text-anchor="end" font-style="italic">0.0065</text>
<rect x="479.7" y="823.7" width="92.4" height="55.1" fill="#879f80"/>
<line x1="525.4" y1="823.7" x2="525.4" y2="878.8" stroke="#95ab8f" stroke-width="0.6"/>
<text x="480.3" y="828.9" font-size="5.7" fill="#2a2a2a">GO:</text>
<text x="480.3" y="834.8" font-size="5.7" fill="#2a2a2a">0004185|</text>
<text x="480.3" y="840.7" font-size="5.7" fill="#2a2a2a">serine−</text>
<text x="480.3" y="846.6" font-size="5.7" fill="#2a2a2a">type</text>
<text x="480.3" y="852.5" font-size="5.7" fill="#2a2a2a">carboxypeptidase</text>
<text x="480.3" y="858.4" font-size="5.7" fill="#2a2a2a">activity</text>
<text x="528" y="830.4" font-size="7.1" fill="#2a2a2a">GO:</text>
<text x="528" y="838.2" font-size="7.1" fill="#2a2a2a">0070008|</text>
<text x="528" y="846" font-size="7.1" fill="#2a2a2a">serine−</text>
<text x="528" y="853.8" font-size="7.1" fill="#2a2a2a">type</text>
<text x="528" y="861.6" font-size="7.1" fill="#2a2a2a">exopeptidase</text>
<text x="528" y="869.4" font-size="7.1" fill="#2a2a2a">activity</text>
<text x="571" y="877" font-size="4.8" fill="#d8e0d6" text-anchor="end" font-style="italic">0.0444</text>
<rect x="574.9" y="823.8" width="59.1" height="54.7" fill="#879f80"/>
<text x="575.7" y="831.3" font-size="8.5" fill="#2a2a2a">GO:</text>
<text x="575.7" y="840.1" font-size="8.5" fill="#2a2a2a">0016860|</text>
<text x="575.7" y="848.9" font-size="8.5" fill="#2a2a2a">intramolecular</text>
<text x="575.7" y="857.7" font-size="8.5" fill="#2a2a2a">oxidoreductase</text>
<text x="575.7" y="866.5" font-size="8.5" fill="#2a2a2a">activity</text>
<text x="633" y="877" font-size="4.8" fill="#d8e0d6" text-anchor="end" font-style="italic">0.0198</text>
<text x="638" y="749.9" font-size="11.9" fill="#333333">Ontology</text>
<rect x="638.3" y="755.2" width="9.4" height="9.1" fill="#dadada"/>
<rect x="638.3" y="766.8" width="9.4" height="9.1" fill="#879f80"/>
<text x="650.6" y="763.8" font-size="10.9" fill="#333333">BP</text>
<text x="650.6" y="775.4" font-size="10.9" fill="#333333">MF</text>
</svg>
</body></html>
